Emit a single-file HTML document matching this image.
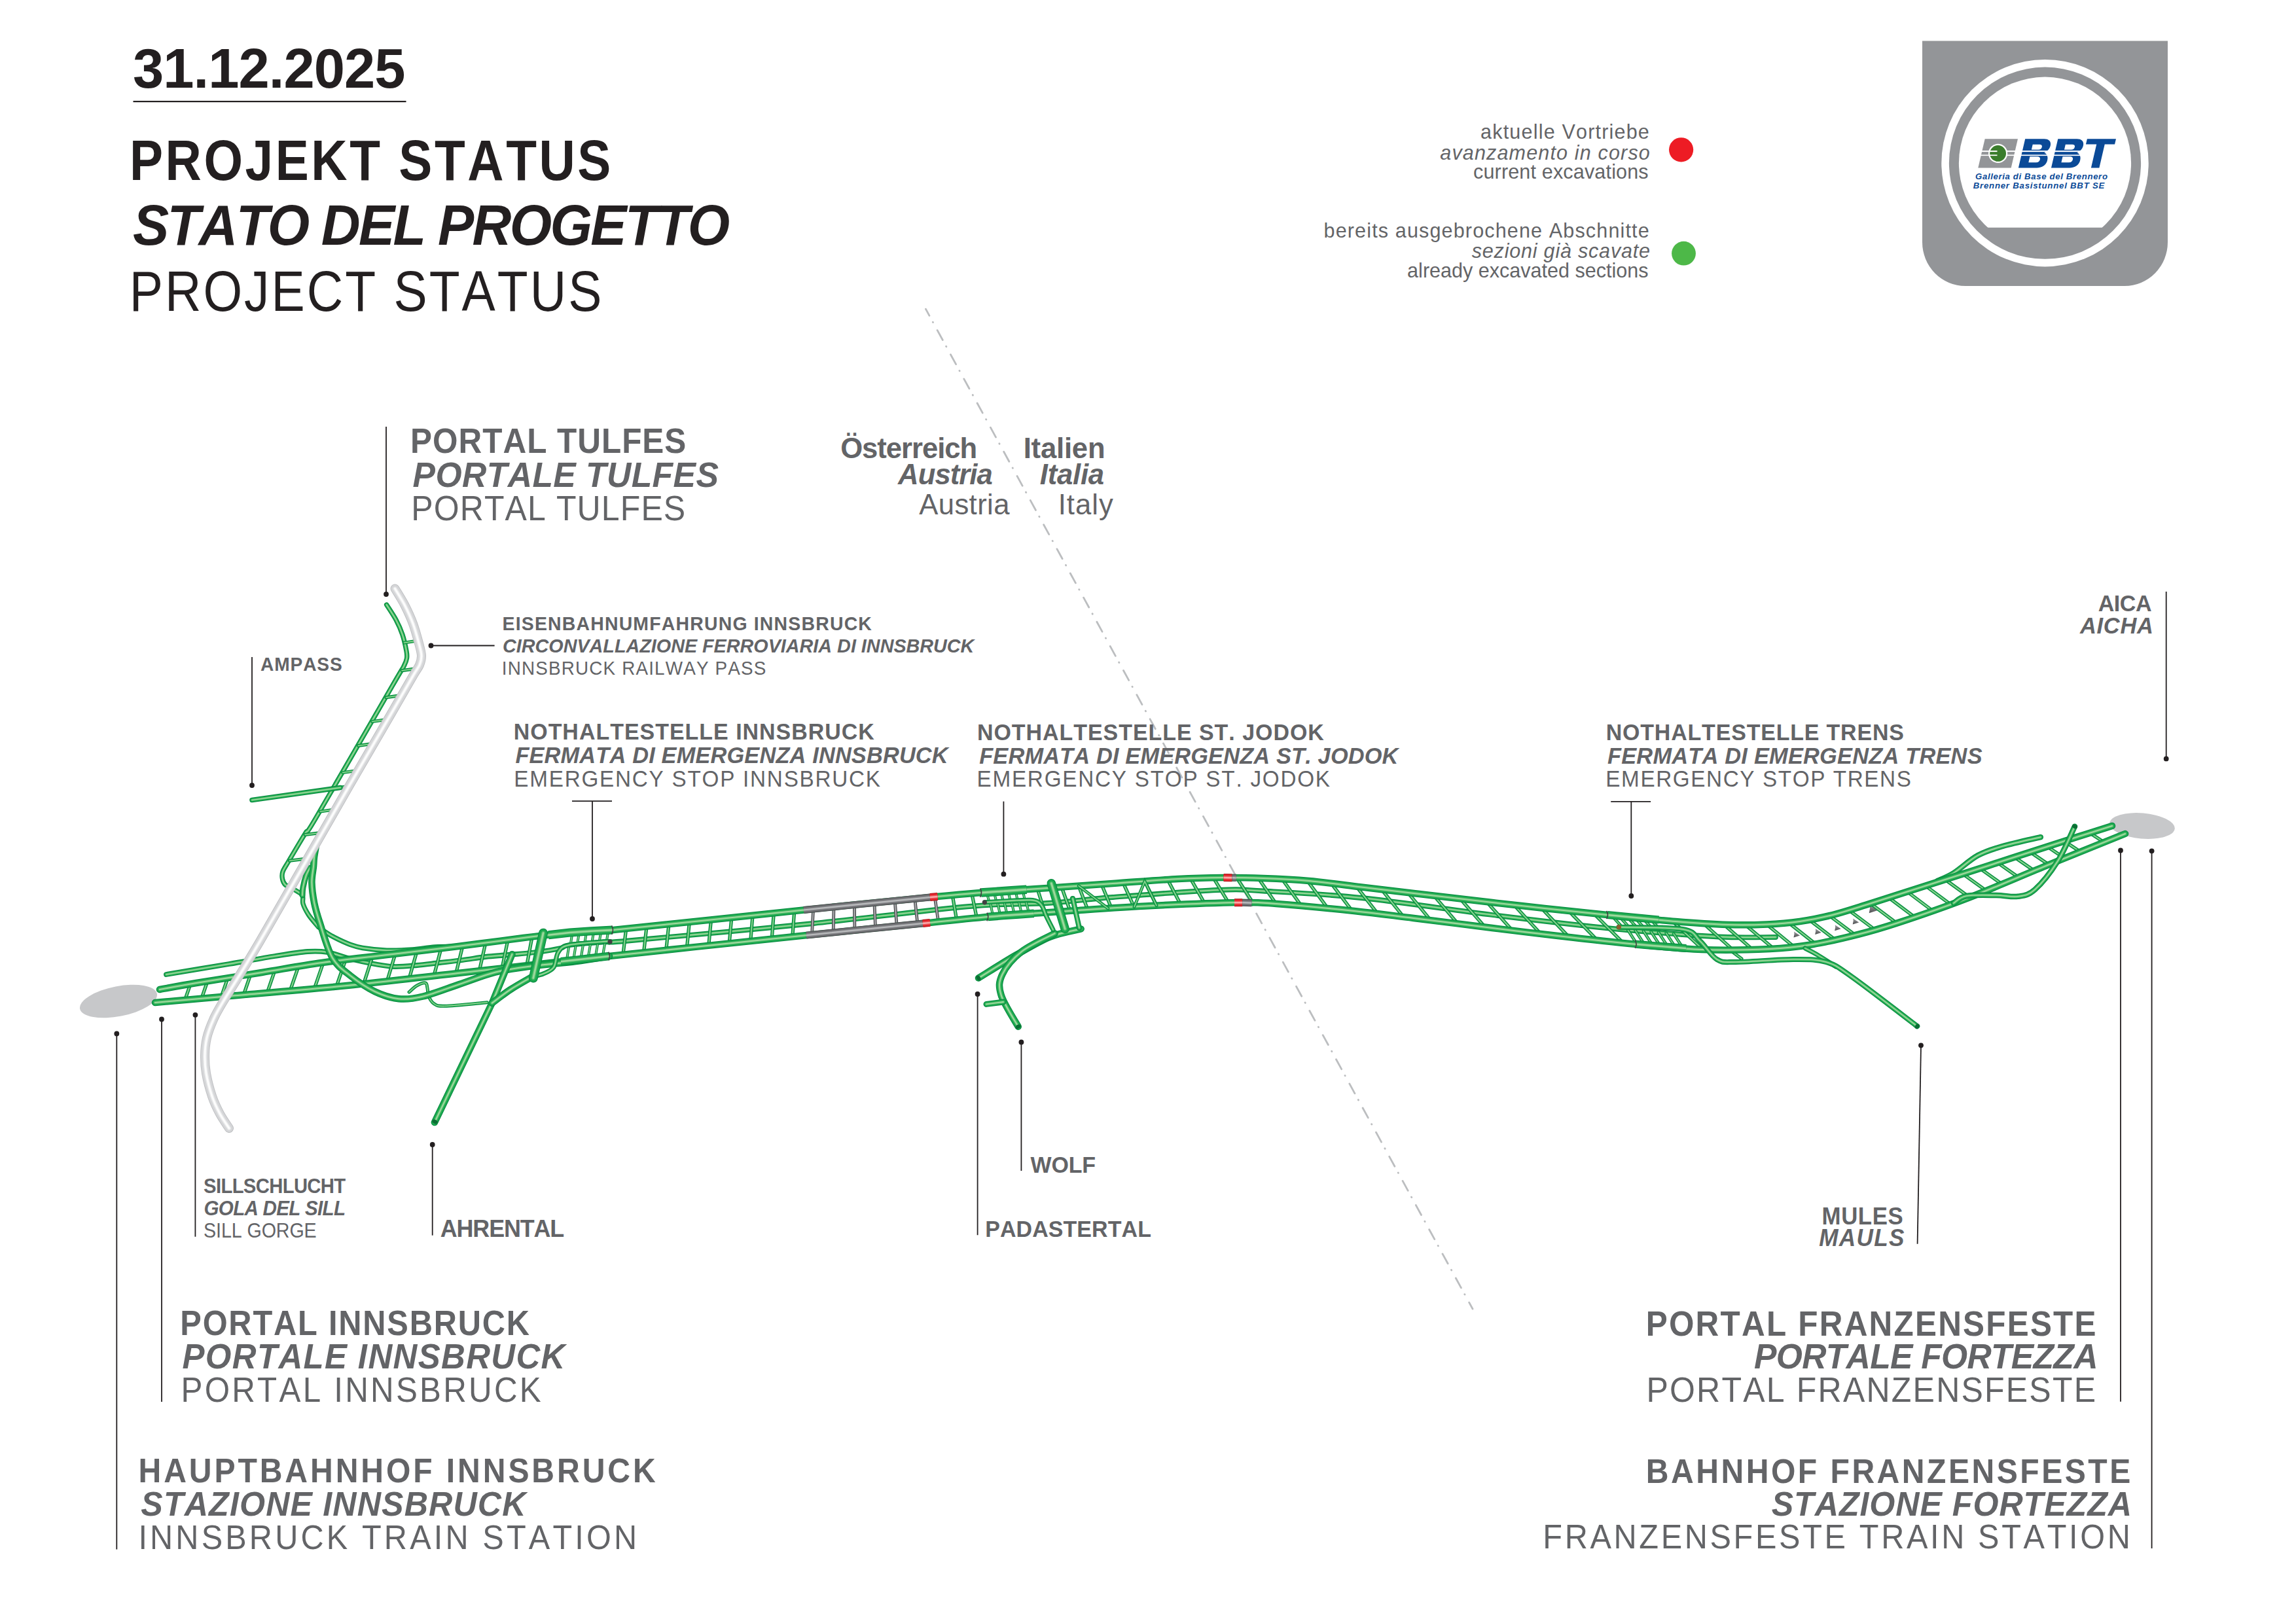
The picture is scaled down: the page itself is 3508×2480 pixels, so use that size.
<!DOCTYPE html><html><head><meta charset="utf-8"><title>BBT Projekt Status</title>
<style>html,body{margin:0;padding:0;background:#fff;width:3508px;height:2480px;overflow:hidden}svg{display:block}text{font-family:"Liberation Sans",sans-serif;font-kerning:none;font-variant-ligatures:none}</style></head><body>
<svg xmlns="http://www.w3.org/2000/svg" width="3508" height="2480" viewBox="0 0 3508 2480">
<rect width="3508" height="2480" fill="#fff"/>
<rect x="203.5" y="154" width="417" height="2.2" fill="#231f20"/>
<circle cx="2568.6" cy="228.8" r="18.6" fill="#ed1c24"/>
<circle cx="2572.5" cy="387.2" r="18.4" fill="#4db848"/>
<path d="M2937 62.6 H3312 V370 A66 67 0 0 1 3246 437 H3003 A66 67 0 0 1 2937 370 Z" fill="#939598"/>
<circle cx="3124.5" cy="249.2" r="158.2" fill="#fff"/>
<circle cx="3124.5" cy="249.2" r="146.6" fill="#939598"/>
<clipPath id="dc"><rect x="2900" y="100" width="450" height="247.7"/></clipPath>
<circle cx="3124.5" cy="249.2" r="131.6" fill="#fff" clip-path="url(#dc)"/>
<path d="M3032.7 212.2 H3083 L3072.7 256.5 H3022.3 Z" fill="#939598"/>
<rect x="3018" y="230.1" width="68" height="2" fill="#fff"/>
<rect x="3018" y="236.4" width="68" height="1.7" fill="#fff"/>
<circle cx="3052.6" cy="234.4" r="14.6" fill="#fff"/>
<circle cx="3052.6" cy="234.4" r="12.4" fill="#3a7d2c"/>
<rect x="3040" y="230.1" width="11.5" height="2" fill="#fff"/>
<rect x="3040" y="236.4" width="11.5" height="1.7" fill="#fff"/>
<path d="M0 0 H29 C37 0 41 4.5 41 10.5 C41 15.5 38 19 34 21 C39 23 41.5 27 41.5 33 C41.5 40 36 44.3 28 44.3 H0 Z M13.5 8.5 H24 C27 8.5 28.5 10 28.5 12.5 C28.5 15 27 16.5 24 16.5 H13.5 Z M13.5 27 H25 C28.5 27 30 29 30 31.5 C30 34 28.5 36 25 36 H13.5 Z" fill="#0b4a97" fill-rule="evenodd" transform="translate(3094.2 212.2) skewX(-13.1)"/>
<path d="M0 0 H29 C37 0 41 4.5 41 10.5 C41 15.5 38 19 34 21 C39 23 41.5 27 41.5 33 C41.5 40 36 44.3 28 44.3 H0 Z M13.5 8.5 H24 C27 8.5 28.5 10 28.5 12.5 C28.5 15 27 16.5 24 16.5 H13.5 Z M13.5 27 H25 C28.5 27 30 29 30 31.5 C30 34 28.5 36 25 36 H13.5 Z" fill="#0b4a97" fill-rule="evenodd" transform="translate(3144.3 212.2) skewX(-13.1)"/>
<path d="M0 0 H44.1 V8.4 H28.8 V44.3 H16.3 V8.4 H0 Z" fill="#0b4a97" transform="translate(3188.9 212.2) skewX(-13.1)"/>
<rect x="3078" y="230.1" width="107" height="2" fill="#fff"/>
<rect x="3078" y="236.4" width="107" height="1.7" fill="#fff"/>
<text x="3018" y="273.6" font-size="13.23" font-weight="bold" font-style="italic" letter-spacing="0.627" fill="#0b4a97">Galleria di Base del Brennero</text>
<text x="3014.7" y="287.8" font-size="13.23" font-weight="bold" font-style="italic" letter-spacing="0.770" fill="#0b4a97">Brenner Basistunnel BBT SE</text>
<path d="M1414.4 472.2 L2250 2000" stroke="#bcbec0" stroke-width="2.8" stroke-linecap="round" stroke-dasharray="17 11.1 0.5 13.73" stroke-dashoffset="5.4" fill="none"/>
<defs><linearGradient id="wg" x1="0" y1="0" x2="0" y2="1"><stop offset="0" stop-color="#9d9fa2"/><stop offset="1" stop-color="#4d4e50"/></linearGradient></defs>
<g fill="none">
<ellipse cx="181" cy="1530" rx="60" ry="23" transform="rotate(-11 181 1530)" fill="#c7c8ca"/>
<ellipse cx="3273" cy="1262" rx="50" ry="19.5" transform="rotate(5 3273 1262)" fill="#c7c8ca"/>
<path d="M487.4 1417 C489 1418.2 493.1 1421.4 497 1424 C500.9 1426.6 504.6 1429.2 511 1432.4 C517.4 1435.7 528.3 1440.8 535.5 1443.5 C542.7 1446.2 544.8 1447 554 1448.5 C563.2 1450 578.3 1451.8 591 1452.2 C603.7 1452.6 617.7 1451.9 630 1451 C642.3 1450.1 653.1 1447.8 664.8 1447 C676.5 1446.2 694.1 1446.2 700 1446" stroke="#07893f" stroke-width="7.5" stroke-linecap="round"/><path d="M487.4 1417 C489 1418.2 493.1 1421.4 497 1424 C500.9 1426.6 504.6 1429.2 511 1432.4 C517.4 1435.7 528.3 1440.8 535.5 1443.5 C542.7 1446.2 544.8 1447 554 1448.5 C563.2 1450 578.3 1451.8 591 1452.2 C603.7 1452.6 617.7 1451.9 630 1451 C642.3 1450.1 653.1 1447.8 664.8 1447 C676.5 1446.2 694.1 1446.2 700 1446" stroke="#1aa94f" stroke-width="5.5" stroke-linecap="round"/><path d="M487.4 1417 C489 1418.2 493.1 1421.4 497 1424 C500.9 1426.6 504.6 1429.2 511 1432.4 C517.4 1435.7 528.3 1440.8 535.5 1443.5 C542.7 1446.2 544.8 1447 554 1448.5 C563.2 1450 578.3 1451.8 591 1452.2 C603.7 1452.6 617.7 1451.9 630 1451 C642.3 1450.1 653.1 1447.8 664.8 1447 C676.5 1446.2 694.1 1446.2 700 1446" stroke="#4fbc68" stroke-width="3.1" stroke-linecap="round"/><path d="M487.4 1417 C489 1418.2 493.1 1421.4 497 1424 C500.9 1426.6 504.6 1429.2 511 1432.4 C517.4 1435.7 528.3 1440.8 535.5 1443.5 C542.7 1446.2 544.8 1447 554 1448.5 C563.2 1450 578.3 1451.8 591 1452.2 C603.7 1452.6 617.7 1451.9 630 1451 C642.3 1450.1 653.1 1447.8 664.8 1447 C676.5 1446.2 694.1 1446.2 700 1446" stroke="#9fd89f" stroke-width="1.5" stroke-linecap="round"/>
<path d="M590.6 924 C592.8 927.5 601.3 940.1 605 947 C608.7 953.9 612.6 962.8 615 970 C617.4 977.2 620 989.6 621 995 C622 1000.4 622.1 1002.5 621.5 1006 C620.9 1009.5 620.2 1011.9 617 1018 C613.8 1024.2 620.2 1012.2 600 1047 C579.8 1081.8 502.6 1216 482.6 1250 C462.6 1284 472.8 1263.4 466.5 1273.4 C460.2 1283.4 445.9 1307.7 440.7 1316.5 C435.5 1325.3 433.4 1328 432 1332 C430.6 1336 430.9 1340 431.5 1343 C432.1 1346 433.4 1349.6 436 1352 C438.6 1354.4 445.1 1356.6 449 1359 C452.9 1361.4 459.9 1364.7 462 1368 C464.1 1371.3 461.6 1376.5 463 1381 C464.4 1385.5 468.1 1392.7 471.5 1397.9 C474.9 1403.2 483.8 1413.3 486 1416" stroke="#07893f" stroke-width="7.3" stroke-linecap="round"/><path d="M590.6 924 C592.8 927.5 601.3 940.1 605 947 C608.7 953.9 612.6 962.8 615 970 C617.4 977.2 620 989.6 621 995 C622 1000.4 622.1 1002.5 621.5 1006 C620.9 1009.5 620.2 1011.9 617 1018 C613.8 1024.2 620.2 1012.2 600 1047 C579.8 1081.8 502.6 1216 482.6 1250 C462.6 1284 472.8 1263.4 466.5 1273.4 C460.2 1283.4 445.9 1307.7 440.7 1316.5 C435.5 1325.3 433.4 1328 432 1332 C430.6 1336 430.9 1340 431.5 1343 C432.1 1346 433.4 1349.6 436 1352 C438.6 1354.4 445.1 1356.6 449 1359 C452.9 1361.4 459.9 1364.7 462 1368 C464.1 1371.3 461.6 1376.5 463 1381 C464.4 1385.5 468.1 1392.7 471.5 1397.9 C474.9 1403.2 483.8 1413.3 486 1416" stroke="#1aa94f" stroke-width="5.3" stroke-linecap="round"/><path d="M590.6 924 C592.8 927.5 601.3 940.1 605 947 C608.7 953.9 612.6 962.8 615 970 C617.4 977.2 620 989.6 621 995 C622 1000.4 622.1 1002.5 621.5 1006 C620.9 1009.5 620.2 1011.9 617 1018 C613.8 1024.2 620.2 1012.2 600 1047 C579.8 1081.8 502.6 1216 482.6 1250 C462.6 1284 472.8 1263.4 466.5 1273.4 C460.2 1283.4 445.9 1307.7 440.7 1316.5 C435.5 1325.3 433.4 1328 432 1332 C430.6 1336 430.9 1340 431.5 1343 C432.1 1346 433.4 1349.6 436 1352 C438.6 1354.4 445.1 1356.6 449 1359 C452.9 1361.4 459.9 1364.7 462 1368 C464.1 1371.3 461.6 1376.5 463 1381 C464.4 1385.5 468.1 1392.7 471.5 1397.9 C474.9 1403.2 483.8 1413.3 486 1416" stroke="#4fbc68" stroke-width="3.1" stroke-linecap="round"/><path d="M590.6 924 C592.8 927.5 601.3 940.1 605 947 C608.7 953.9 612.6 962.8 615 970 C617.4 977.2 620 989.6 621 995 C622 1000.4 622.1 1002.5 621.5 1006 C620.9 1009.5 620.2 1011.9 617 1018 C613.8 1024.2 620.2 1012.2 600 1047 C579.8 1081.8 502.6 1216 482.6 1250 C462.6 1284 472.8 1263.4 466.5 1273.4 C460.2 1283.4 445.9 1307.7 440.7 1316.5 C435.5 1325.3 433.4 1328 432 1332 C430.6 1336 430.9 1340 431.5 1343 C432.1 1346 433.4 1349.6 436 1352 C438.6 1354.4 445.1 1356.6 449 1359 C452.9 1361.4 459.9 1364.7 462 1368 C464.1 1371.3 461.6 1376.5 463 1381 C464.4 1385.5 468.1 1392.7 471.5 1397.9 C474.9 1403.2 483.8 1413.3 486 1416" stroke="#9fd89f" stroke-width="1.5" stroke-linecap="round"/>
<path d="M474 1326 C473 1327.8 469.8 1332 468 1337 C466.2 1342 464 1350.8 463 1356 C462 1361.2 462.2 1366 462 1368" stroke="#07893f" stroke-width="9" stroke-linecap="round"/><path d="M474 1326 C473 1327.8 469.8 1332 468 1337 C466.2 1342 464 1350.8 463 1356 C462 1361.2 462.2 1366 462 1368" stroke="#1aa94f" stroke-width="7" stroke-linecap="round"/><path d="M474 1326 C473 1327.8 469.8 1332 468 1337 C466.2 1342 464 1350.8 463 1356 C462 1361.2 462.2 1366 462 1368" stroke="#4fbc68" stroke-width="3.8" stroke-linecap="round"/><path d="M474 1326 C473 1327.8 469.8 1332 468 1337 C466.2 1342 464 1350.8 463 1356 C462 1361.2 462.2 1366 462 1368" stroke="#9fd89f" stroke-width="1.8" stroke-linecap="round"/>
<path d="M617.5 982.1 L637.3 979.1" stroke="#07893f" stroke-width="5" stroke-linecap="round"/><path d="M617.5 982.1 L637.3 979.1" stroke="#1aa94f" stroke-width="3.1" stroke-linecap="round"/><path d="M617.5 982.1 L637.3 979.1" stroke="#4fbc68" stroke-width="2.1" stroke-linecap="round"/><path d="M617.5 982.1 L637.3 979.1" stroke="#9fd89f" stroke-width="1" stroke-linecap="round"/>
<path d="M614 1024.7 L634.7 1021.7" stroke="#07893f" stroke-width="5" stroke-linecap="round"/><path d="M614 1024.7 L634.7 1021.7" stroke="#1aa94f" stroke-width="3.1" stroke-linecap="round"/><path d="M614 1024.7 L634.7 1021.7" stroke="#4fbc68" stroke-width="2.1" stroke-linecap="round"/><path d="M614 1024.7 L634.7 1021.7" stroke="#9fd89f" stroke-width="1" stroke-linecap="round"/>
<path d="M590 1065.8 L610.8 1062.8" stroke="#07893f" stroke-width="5" stroke-linecap="round"/><path d="M590 1065.8 L610.8 1062.8" stroke="#1aa94f" stroke-width="3.1" stroke-linecap="round"/><path d="M590 1065.8 L610.8 1062.8" stroke="#4fbc68" stroke-width="2.1" stroke-linecap="round"/><path d="M590 1065.8 L610.8 1062.8" stroke="#9fd89f" stroke-width="1" stroke-linecap="round"/>
<path d="M568.7 1102.6 L589.5 1099.6" stroke="#07893f" stroke-width="5" stroke-linecap="round"/><path d="M568.7 1102.6 L589.5 1099.6" stroke="#1aa94f" stroke-width="3.1" stroke-linecap="round"/><path d="M568.7 1102.6 L589.5 1099.6" stroke="#4fbc68" stroke-width="2.1" stroke-linecap="round"/><path d="M568.7 1102.6 L589.5 1099.6" stroke="#9fd89f" stroke-width="1" stroke-linecap="round"/>
<path d="M547.4 1139.5 L568.1 1136.5" stroke="#07893f" stroke-width="5" stroke-linecap="round"/><path d="M547.4 1139.5 L568.1 1136.5" stroke="#1aa94f" stroke-width="3.1" stroke-linecap="round"/><path d="M547.4 1139.5 L568.1 1136.5" stroke="#4fbc68" stroke-width="2.1" stroke-linecap="round"/><path d="M547.4 1139.5 L568.1 1136.5" stroke="#9fd89f" stroke-width="1" stroke-linecap="round"/>
<path d="M523.6 1180.6 L544.2 1177.6" stroke="#07893f" stroke-width="5" stroke-linecap="round"/><path d="M523.6 1180.6 L544.2 1177.6" stroke="#1aa94f" stroke-width="3.1" stroke-linecap="round"/><path d="M523.6 1180.6 L544.2 1177.6" stroke="#4fbc68" stroke-width="2.1" stroke-linecap="round"/><path d="M523.6 1180.6 L544.2 1177.6" stroke="#9fd89f" stroke-width="1" stroke-linecap="round"/>
<path d="M509.7 1204.7 L530.2 1201.7" stroke="#07893f" stroke-width="5" stroke-linecap="round"/><path d="M509.7 1204.7 L530.2 1201.7" stroke="#1aa94f" stroke-width="3.1" stroke-linecap="round"/><path d="M509.7 1204.7 L530.2 1201.7" stroke="#4fbc68" stroke-width="2.1" stroke-linecap="round"/><path d="M509.7 1204.7 L530.2 1201.7" stroke="#9fd89f" stroke-width="1" stroke-linecap="round"/>
<path d="M489.2 1240.1 L509.8 1237.1" stroke="#07893f" stroke-width="5" stroke-linecap="round"/><path d="M489.2 1240.1 L509.8 1237.1" stroke="#1aa94f" stroke-width="3.1" stroke-linecap="round"/><path d="M489.2 1240.1 L509.8 1237.1" stroke="#4fbc68" stroke-width="2.1" stroke-linecap="round"/><path d="M489.2 1240.1 L509.8 1237.1" stroke="#9fd89f" stroke-width="1" stroke-linecap="round"/>
<path d="M466.1 1275.5 L489.5 1272.5" stroke="#07893f" stroke-width="5" stroke-linecap="round"/><path d="M466.1 1275.5 L489.5 1272.5" stroke="#1aa94f" stroke-width="3.1" stroke-linecap="round"/><path d="M466.1 1275.5 L489.5 1272.5" stroke="#4fbc68" stroke-width="2.1" stroke-linecap="round"/><path d="M466.1 1275.5 L489.5 1272.5" stroke="#9fd89f" stroke-width="1" stroke-linecap="round"/>
<path d="M442.4 1315.2 L466.7 1312.2" stroke="#07893f" stroke-width="5" stroke-linecap="round"/><path d="M442.4 1315.2 L466.7 1312.2" stroke="#1aa94f" stroke-width="3.1" stroke-linecap="round"/><path d="M442.4 1315.2 L466.7 1312.2" stroke="#4fbc68" stroke-width="2.1" stroke-linecap="round"/><path d="M442.4 1315.2 L466.7 1312.2" stroke="#9fd89f" stroke-width="1" stroke-linecap="round"/>
<path d="M385 1222.5 L520 1203.5" stroke="#07893f" stroke-width="7.5" stroke-linecap="round"/><path d="M385 1222.5 L520 1203.5" stroke="#1aa94f" stroke-width="5.5" stroke-linecap="round"/><path d="M385 1222.5 L520 1203.5" stroke="#4fbc68" stroke-width="3.1" stroke-linecap="round"/><path d="M385 1222.5 L520 1203.5" stroke="#9fd89f" stroke-width="1.5" stroke-linecap="round"/>
<path d="M625 1516 C627 1514.3 632.8 1508.3 637 1506 C641.2 1503.7 647.3 1501.3 650 1502 C652.7 1502.7 652.2 1506.6 653 1510 C653.8 1513.4 653.3 1518.6 655 1522.5 C656.7 1526.4 658.9 1531.1 663 1533.6 C667.1 1536.1 666.1 1537.6 679.6 1537.3 C693.1 1537 733.5 1532.6 744.3 1531.7" stroke="#07893f" stroke-width="5" stroke-linecap="round"/><path d="M625 1516 C627 1514.3 632.8 1508.3 637 1506 C641.2 1503.7 647.3 1501.3 650 1502 C652.7 1502.7 652.2 1506.6 653 1510 C653.8 1513.4 653.3 1518.6 655 1522.5 C656.7 1526.4 658.9 1531.1 663 1533.6 C667.1 1536.1 666.1 1537.6 679.6 1537.3 C693.1 1537 733.5 1532.6 744.3 1531.7" stroke="#1aa94f" stroke-width="3.1" stroke-linecap="round"/><path d="M625 1516 C627 1514.3 632.8 1508.3 637 1506 C641.2 1503.7 647.3 1501.3 650 1502 C652.7 1502.7 652.2 1506.6 653 1510 C653.8 1513.4 653.3 1518.6 655 1522.5 C656.7 1526.4 658.9 1531.1 663 1533.6 C667.1 1536.1 666.1 1537.6 679.6 1537.3 C693.1 1537 733.5 1532.6 744.3 1531.7" stroke="#4fbc68" stroke-width="2.1" stroke-linecap="round"/><path d="M625 1516 C627 1514.3 632.8 1508.3 637 1506 C641.2 1503.7 647.3 1501.3 650 1502 C652.7 1502.7 652.2 1506.6 653 1510 C653.8 1513.4 653.3 1518.6 655 1522.5 C656.7 1526.4 658.9 1531.1 663 1533.6 C667.1 1536.1 666.1 1537.6 679.6 1537.3 C693.1 1537 733.5 1532.6 744.3 1531.7" stroke="#9fd89f" stroke-width="1" stroke-linecap="round"/>
<path d="M1651.6 1419.4 C1643.8 1421.4 1621 1424.9 1604.5 1431.6 C1588 1438.3 1570.5 1448.9 1552.3 1459.4 C1534 1469.9 1504.5 1488.7 1495 1494.5" stroke="#07893f" stroke-width="10.5" stroke-linecap="round"/><path d="M1651.6 1419.4 C1643.8 1421.4 1621 1424.9 1604.5 1431.6 C1588 1438.3 1570.5 1448.9 1552.3 1459.4 C1534 1469.9 1504.5 1488.7 1495 1494.5" stroke="#1aa94f" stroke-width="8.5" stroke-linecap="round"/><path d="M1651.6 1419.4 C1643.8 1421.4 1621 1424.9 1604.5 1431.6 C1588 1438.3 1570.5 1448.9 1552.3 1459.4 C1534 1469.9 1504.5 1488.7 1495 1494.5" stroke="#4fbc68" stroke-width="4.4" stroke-linecap="round"/><path d="M1651.6 1419.4 C1643.8 1421.4 1621 1424.9 1604.5 1431.6 C1588 1438.3 1570.5 1448.9 1552.3 1459.4 C1534 1469.9 1504.5 1488.7 1495 1494.5" stroke="#9fd89f" stroke-width="2.1" stroke-linecap="round"/>
<path d="M1611.5 1426.3 C1603.1 1430.9 1574.3 1443.5 1561 1454 C1547.7 1464.5 1536.6 1477.9 1531.4 1489 C1526.2 1500.1 1525.5 1507.1 1529.6 1520.4 C1533.6 1533.7 1551.3 1560.7 1555.7 1568.7" stroke="#07893f" stroke-width="10.5" stroke-linecap="round"/><path d="M1611.5 1426.3 C1603.1 1430.9 1574.3 1443.5 1561 1454 C1547.7 1464.5 1536.6 1477.9 1531.4 1489 C1526.2 1500.1 1525.5 1507.1 1529.6 1520.4 C1533.6 1533.7 1551.3 1560.7 1555.7 1568.7" stroke="#1aa94f" stroke-width="8.5" stroke-linecap="round"/><path d="M1611.5 1426.3 C1603.1 1430.9 1574.3 1443.5 1561 1454 C1547.7 1464.5 1536.6 1477.9 1531.4 1489 C1526.2 1500.1 1525.5 1507.1 1529.6 1520.4 C1533.6 1533.7 1551.3 1560.7 1555.7 1568.7" stroke="#4fbc68" stroke-width="4.4" stroke-linecap="round"/><path d="M1611.5 1426.3 C1603.1 1430.9 1574.3 1443.5 1561 1454 C1547.7 1464.5 1536.6 1477.9 1531.4 1489 C1526.2 1500.1 1525.5 1507.1 1529.6 1520.4 C1533.6 1533.7 1551.3 1560.7 1555.7 1568.7" stroke="#9fd89f" stroke-width="2.1" stroke-linecap="round"/>
<path d="M1507 1534.4 L1533 1531" stroke="#07893f" stroke-width="9" stroke-linecap="round"/><path d="M1507 1534.4 L1533 1531" stroke="#1aa94f" stroke-width="7" stroke-linecap="round"/><path d="M1507 1534.4 L1533 1531" stroke="#4fbc68" stroke-width="3.8" stroke-linecap="round"/><path d="M1507 1534.4 L1533 1531" stroke="#9fd89f" stroke-width="1.8" stroke-linecap="round"/>
<path d="M2643 1451.5 L2661 1465" stroke="#07893f" stroke-width="5" stroke-linecap="round"/><path d="M2643 1451.5 L2661 1465" stroke="#1aa94f" stroke-width="3.1" stroke-linecap="round"/><path d="M2643 1451.5 L2661 1465" stroke="#4fbc68" stroke-width="2.1" stroke-linecap="round"/><path d="M2643 1451.5 L2661 1465" stroke="#9fd89f" stroke-width="1" stroke-linecap="round"/>
<path d="M2960 1346 C2964.2 1344 2974.7 1340.5 2985 1334 C2995.3 1327.5 3009.5 1313.9 3022 1307.1 C3034.5 1300.3 3044 1297.7 3060 1293 C3076 1288.3 3108.2 1281.5 3117.8 1279.2" stroke="#07893f" stroke-width="8.5" stroke-linecap="round"/><path d="M2960 1346 C2964.2 1344 2974.7 1340.5 2985 1334 C2995.3 1327.5 3009.5 1313.9 3022 1307.1 C3034.5 1300.3 3044 1297.7 3060 1293 C3076 1288.3 3108.2 1281.5 3117.8 1279.2" stroke="#1aa94f" stroke-width="6.5" stroke-linecap="round"/><path d="M2960 1346 C2964.2 1344 2974.7 1340.5 2985 1334 C2995.3 1327.5 3009.5 1313.9 3022 1307.1 C3034.5 1300.3 3044 1297.7 3060 1293 C3076 1288.3 3108.2 1281.5 3117.8 1279.2" stroke="#4fbc68" stroke-width="3.6" stroke-linecap="round"/><path d="M2960 1346 C2964.2 1344 2974.7 1340.5 2985 1334 C2995.3 1327.5 3009.5 1313.9 3022 1307.1 C3034.5 1300.3 3044 1297.7 3060 1293 C3076 1288.3 3108.2 1281.5 3117.8 1279.2" stroke="#9fd89f" stroke-width="1.7" stroke-linecap="round"/>
<path d="M254 1489 C270 1486.3 322.3 1477.7 350 1473 C377.7 1468.3 400 1464.2 420 1461 C440 1457.8 456.7 1455 470 1454 C483.3 1453 489.2 1453.2 500 1455 C510.8 1456.8 523 1462 535 1465 C547 1468 560.8 1471 572 1473 C583.2 1475 591.2 1476.7 602 1477 C612.8 1477.3 625.3 1476 637 1475 C648.7 1474 660.3 1472.3 672 1471 C683.7 1469.7 695.3 1468.5 707 1467 C718.7 1465.5 730.3 1463.3 742 1462 C753.7 1460.7 764 1460.2 777 1459 C790 1457.8 806.8 1456.7 820 1455 C833.2 1453.3 847.7 1450.8 856 1449 C864.3 1447.2 857.8 1445.7 870 1444 C882.2 1442.3 914 1440.1 929 1439 C944 1437.9 907.7 1442.2 960 1437.5 C1012.3 1432.8 1156.2 1419.8 1243 1411 C1329.8 1402.2 1421.5 1390.2 1481 1385 C1540.5 1379.8 1563.5 1382.3 1600 1380 C1636.5 1377.7 1656.7 1374.3 1700 1371 C1743.3 1367.7 1821.7 1361.6 1860 1360 C1898.3 1358.4 1893.3 1359.5 1930 1361.5 C1966.7 1363.5 2021.7 1365.9 2080 1372 C2138.3 1378.1 2218.5 1390.4 2280 1398 C2341.5 1405.6 2400.5 1412.5 2449 1417.5 C2497.5 1422.5 2539.2 1425.6 2571 1428 C2602.8 1430.4 2616.3 1431.3 2640 1432 C2663.7 1432.7 2700.8 1432 2713 1432" stroke="#07893f" stroke-width="7.8" stroke-linecap="round"/><path d="M254 1489 C270 1486.3 322.3 1477.7 350 1473 C377.7 1468.3 400 1464.2 420 1461 C440 1457.8 456.7 1455 470 1454 C483.3 1453 489.2 1453.2 500 1455 C510.8 1456.8 523 1462 535 1465 C547 1468 560.8 1471 572 1473 C583.2 1475 591.2 1476.7 602 1477 C612.8 1477.3 625.3 1476 637 1475 C648.7 1474 660.3 1472.3 672 1471 C683.7 1469.7 695.3 1468.5 707 1467 C718.7 1465.5 730.3 1463.3 742 1462 C753.7 1460.7 764 1460.2 777 1459 C790 1457.8 806.8 1456.7 820 1455 C833.2 1453.3 847.7 1450.8 856 1449 C864.3 1447.2 857.8 1445.7 870 1444 C882.2 1442.3 914 1440.1 929 1439 C944 1437.9 907.7 1442.2 960 1437.5 C1012.3 1432.8 1156.2 1419.8 1243 1411 C1329.8 1402.2 1421.5 1390.2 1481 1385 C1540.5 1379.8 1563.5 1382.3 1600 1380 C1636.5 1377.7 1656.7 1374.3 1700 1371 C1743.3 1367.7 1821.7 1361.6 1860 1360 C1898.3 1358.4 1893.3 1359.5 1930 1361.5 C1966.7 1363.5 2021.7 1365.9 2080 1372 C2138.3 1378.1 2218.5 1390.4 2280 1398 C2341.5 1405.6 2400.5 1412.5 2449 1417.5 C2497.5 1422.5 2539.2 1425.6 2571 1428 C2602.8 1430.4 2616.3 1431.3 2640 1432 C2663.7 1432.7 2700.8 1432 2713 1432" stroke="#1aa94f" stroke-width="5.8" stroke-linecap="round"/><path d="M254 1489 C270 1486.3 322.3 1477.7 350 1473 C377.7 1468.3 400 1464.2 420 1461 C440 1457.8 456.7 1455 470 1454 C483.3 1453 489.2 1453.2 500 1455 C510.8 1456.8 523 1462 535 1465 C547 1468 560.8 1471 572 1473 C583.2 1475 591.2 1476.7 602 1477 C612.8 1477.3 625.3 1476 637 1475 C648.7 1474 660.3 1472.3 672 1471 C683.7 1469.7 695.3 1468.5 707 1467 C718.7 1465.5 730.3 1463.3 742 1462 C753.7 1460.7 764 1460.2 777 1459 C790 1457.8 806.8 1456.7 820 1455 C833.2 1453.3 847.7 1450.8 856 1449 C864.3 1447.2 857.8 1445.7 870 1444 C882.2 1442.3 914 1440.1 929 1439 C944 1437.9 907.7 1442.2 960 1437.5 C1012.3 1432.8 1156.2 1419.8 1243 1411 C1329.8 1402.2 1421.5 1390.2 1481 1385 C1540.5 1379.8 1563.5 1382.3 1600 1380 C1636.5 1377.7 1656.7 1374.3 1700 1371 C1743.3 1367.7 1821.7 1361.6 1860 1360 C1898.3 1358.4 1893.3 1359.5 1930 1361.5 C1966.7 1363.5 2021.7 1365.9 2080 1372 C2138.3 1378.1 2218.5 1390.4 2280 1398 C2341.5 1405.6 2400.5 1412.5 2449 1417.5 C2497.5 1422.5 2539.2 1425.6 2571 1428 C2602.8 1430.4 2616.3 1431.3 2640 1432 C2663.7 1432.7 2700.8 1432 2713 1432" stroke="#4fbc68" stroke-width="3.3" stroke-linecap="round"/><path d="M254 1489 C270 1486.3 322.3 1477.7 350 1473 C377.7 1468.3 400 1464.2 420 1461 C440 1457.8 456.7 1455 470 1454 C483.3 1453 489.2 1453.2 500 1455 C510.8 1456.8 523 1462 535 1465 C547 1468 560.8 1471 572 1473 C583.2 1475 591.2 1476.7 602 1477 C612.8 1477.3 625.3 1476 637 1475 C648.7 1474 660.3 1472.3 672 1471 C683.7 1469.7 695.3 1468.5 707 1467 C718.7 1465.5 730.3 1463.3 742 1462 C753.7 1460.7 764 1460.2 777 1459 C790 1457.8 806.8 1456.7 820 1455 C833.2 1453.3 847.7 1450.8 856 1449 C864.3 1447.2 857.8 1445.7 870 1444 C882.2 1442.3 914 1440.1 929 1439 C944 1437.9 907.7 1442.2 960 1437.5 C1012.3 1432.8 1156.2 1419.8 1243 1411 C1329.8 1402.2 1421.5 1390.2 1481 1385 C1540.5 1379.8 1563.5 1382.3 1600 1380 C1636.5 1377.7 1656.7 1374.3 1700 1371 C1743.3 1367.7 1821.7 1361.6 1860 1360 C1898.3 1358.4 1893.3 1359.5 1930 1361.5 C1966.7 1363.5 2021.7 1365.9 2080 1372 C2138.3 1378.1 2218.5 1390.4 2280 1398 C2341.5 1405.6 2400.5 1412.5 2449 1417.5 C2497.5 1422.5 2539.2 1425.6 2571 1428 C2602.8 1430.4 2616.3 1431.3 2640 1432 C2663.7 1432.7 2700.8 1432 2713 1432" stroke="#9fd89f" stroke-width="1.6" stroke-linecap="round"/>
<path d="M2741 1423.5 L2750 1429.5 L2740.5 1432.5 L2741.5 1427 Z" fill="url(#wg)"/>
<path d="M2773.7 1419.1 L2782.7 1425.1 L2773.2 1428.1 L2774.2 1422.6 Z" fill="url(#wg)"/>
<path d="M2803.7 1413.2 L2812.7 1419.2 L2803.2 1422.2 L2804.2 1416.7 Z" fill="url(#wg)"/>
<path d="M2831.2 1403.4 L2840.2 1409.4 L2830.7 1412.4 L2831.7 1406.9 Z" fill="url(#wg)"/>
<path d="M2856.4 1382.7 L2869 1391.1 L2855.7 1395.3 L2857.1 1387.6 Z" fill="url(#wg)"/>
<path d="M291 1503.6 L282.5 1528.2" stroke="#07893f" stroke-width="5.3" stroke-linecap="round"/><path d="M291 1503.6 L282.5 1528.2" stroke="#1aa94f" stroke-width="3.3" stroke-linecap="round"/><path d="M291 1503.6 L282.5 1528.2" stroke="#4fbc68" stroke-width="2.2" stroke-linecap="round"/><path d="M291 1503.6 L282.5 1528.2" stroke="#9fd89f" stroke-width="1.1" stroke-linecap="round"/>
<path d="M317 1499.3 L307.9 1525.8" stroke="#07893f" stroke-width="5.3" stroke-linecap="round"/><path d="M317 1499.3 L307.9 1525.8" stroke="#1aa94f" stroke-width="3.3" stroke-linecap="round"/><path d="M317 1499.3 L307.9 1525.8" stroke="#4fbc68" stroke-width="2.2" stroke-linecap="round"/><path d="M317 1499.3 L307.9 1525.8" stroke="#9fd89f" stroke-width="1.1" stroke-linecap="round"/>
<path d="M348 1494.3 L338.1 1523.2" stroke="#07893f" stroke-width="5.3" stroke-linecap="round"/><path d="M348 1494.3 L338.1 1523.2" stroke="#1aa94f" stroke-width="3.3" stroke-linecap="round"/><path d="M348 1494.3 L338.1 1523.2" stroke="#4fbc68" stroke-width="2.2" stroke-linecap="round"/><path d="M348 1494.3 L338.1 1523.2" stroke="#9fd89f" stroke-width="1.1" stroke-linecap="round"/>
<path d="M383 1488.7 L372.2 1520.2" stroke="#07893f" stroke-width="5.3" stroke-linecap="round"/><path d="M383 1488.7 L372.2 1520.2" stroke="#1aa94f" stroke-width="3.3" stroke-linecap="round"/><path d="M383 1488.7 L372.2 1520.2" stroke="#4fbc68" stroke-width="2.2" stroke-linecap="round"/><path d="M383 1488.7 L372.2 1520.2" stroke="#9fd89f" stroke-width="1.1" stroke-linecap="round"/>
<path d="M420 1482.7 L408.2 1517" stroke="#07893f" stroke-width="5.3" stroke-linecap="round"/><path d="M420 1482.7 L408.2 1517" stroke="#1aa94f" stroke-width="3.3" stroke-linecap="round"/><path d="M420 1482.7 L408.2 1517" stroke="#4fbc68" stroke-width="2.2" stroke-linecap="round"/><path d="M420 1482.7 L408.2 1517" stroke="#9fd89f" stroke-width="1.1" stroke-linecap="round"/>
<path d="M456 1476.9 L443.3 1513.7" stroke="#07893f" stroke-width="5.3" stroke-linecap="round"/><path d="M456 1476.9 L443.3 1513.7" stroke="#1aa94f" stroke-width="3.3" stroke-linecap="round"/><path d="M456 1476.9 L443.3 1513.7" stroke="#4fbc68" stroke-width="2.2" stroke-linecap="round"/><path d="M456 1476.9 L443.3 1513.7" stroke="#9fd89f" stroke-width="1.1" stroke-linecap="round"/>
<path d="M494 1470.8 L480.3 1510.5" stroke="#07893f" stroke-width="5.3" stroke-linecap="round"/><path d="M494 1470.8 L480.3 1510.5" stroke="#1aa94f" stroke-width="3.3" stroke-linecap="round"/><path d="M494 1470.8 L480.3 1510.5" stroke="#4fbc68" stroke-width="2.2" stroke-linecap="round"/><path d="M494 1470.8 L480.3 1510.5" stroke="#9fd89f" stroke-width="1.1" stroke-linecap="round"/>
<path d="M528 1466.7 L513.9 1507.6" stroke="#07893f" stroke-width="5.3" stroke-linecap="round"/><path d="M528 1466.7 L513.9 1507.6" stroke="#1aa94f" stroke-width="3.3" stroke-linecap="round"/><path d="M528 1466.7 L513.9 1507.6" stroke="#4fbc68" stroke-width="2.2" stroke-linecap="round"/><path d="M528 1466.7 L513.9 1507.6" stroke="#9fd89f" stroke-width="1.1" stroke-linecap="round"/>
<path d="M569 1461.7 L555.7 1503.1" stroke="#07893f" stroke-width="5.3" stroke-linecap="round"/><path d="M569 1461.7 L555.7 1503.1" stroke="#1aa94f" stroke-width="3.3" stroke-linecap="round"/><path d="M569 1461.7 L555.7 1503.1" stroke="#4fbc68" stroke-width="2.2" stroke-linecap="round"/><path d="M569 1461.7 L555.7 1503.1" stroke="#9fd89f" stroke-width="1.1" stroke-linecap="round"/>
<path d="M604 1457.5 L591.4 1499.2" stroke="#07893f" stroke-width="5.3" stroke-linecap="round"/><path d="M604 1457.5 L591.4 1499.2" stroke="#1aa94f" stroke-width="3.3" stroke-linecap="round"/><path d="M604 1457.5 L591.4 1499.2" stroke="#4fbc68" stroke-width="2.2" stroke-linecap="round"/><path d="M604 1457.5 L591.4 1499.2" stroke="#9fd89f" stroke-width="1.1" stroke-linecap="round"/>
<path d="M637 1453.6 L625.1 1495.4" stroke="#07893f" stroke-width="5.3" stroke-linecap="round"/><path d="M637 1453.6 L625.1 1495.4" stroke="#1aa94f" stroke-width="3.3" stroke-linecap="round"/><path d="M637 1453.6 L625.1 1495.4" stroke="#4fbc68" stroke-width="2.2" stroke-linecap="round"/><path d="M637 1453.6 L625.1 1495.4" stroke="#9fd89f" stroke-width="1.1" stroke-linecap="round"/>
<path d="M674 1449.1 L662.9 1491.2" stroke="#07893f" stroke-width="5.3" stroke-linecap="round"/><path d="M674 1449.1 L662.9 1491.2" stroke="#1aa94f" stroke-width="3.3" stroke-linecap="round"/><path d="M674 1449.1 L662.9 1491.2" stroke="#4fbc68" stroke-width="2.2" stroke-linecap="round"/><path d="M674 1449.1 L662.9 1491.2" stroke="#9fd89f" stroke-width="1.1" stroke-linecap="round"/>
<path d="M707 1445.1 L696.6 1487.6" stroke="#07893f" stroke-width="5.3" stroke-linecap="round"/><path d="M707 1445.1 L696.6 1487.6" stroke="#1aa94f" stroke-width="3.3" stroke-linecap="round"/><path d="M707 1445.1 L696.6 1487.6" stroke="#4fbc68" stroke-width="2.2" stroke-linecap="round"/><path d="M707 1445.1 L696.6 1487.6" stroke="#9fd89f" stroke-width="1.1" stroke-linecap="round"/>
<path d="M742 1440.5 L732.3 1483.5" stroke="#07893f" stroke-width="5.3" stroke-linecap="round"/><path d="M742 1440.5 L732.3 1483.5" stroke="#1aa94f" stroke-width="3.3" stroke-linecap="round"/><path d="M742 1440.5 L732.3 1483.5" stroke="#4fbc68" stroke-width="2.2" stroke-linecap="round"/><path d="M742 1440.5 L732.3 1483.5" stroke="#9fd89f" stroke-width="1.1" stroke-linecap="round"/>
<path d="M776 1436.1 L767 1479.7" stroke="#07893f" stroke-width="5.3" stroke-linecap="round"/><path d="M776 1436.1 L767 1479.7" stroke="#1aa94f" stroke-width="3.3" stroke-linecap="round"/><path d="M776 1436.1 L767 1479.7" stroke="#4fbc68" stroke-width="2.2" stroke-linecap="round"/><path d="M776 1436.1 L767 1479.7" stroke="#9fd89f" stroke-width="1.1" stroke-linecap="round"/>
<path d="M813 1431.5 L804.8 1475.3" stroke="#07893f" stroke-width="5.3" stroke-linecap="round"/><path d="M813 1431.5 L804.8 1475.3" stroke="#1aa94f" stroke-width="3.3" stroke-linecap="round"/><path d="M813 1431.5 L804.8 1475.3" stroke="#4fbc68" stroke-width="2.2" stroke-linecap="round"/><path d="M813 1431.5 L804.8 1475.3" stroke="#9fd89f" stroke-width="1.1" stroke-linecap="round"/>
<path d="M956.7 1418.9 L951.9 1458.9" stroke="#07893f" stroke-width="5.3" stroke-linecap="round"/><path d="M956.7 1418.9 L951.9 1458.9" stroke="#1aa94f" stroke-width="3.3" stroke-linecap="round"/><path d="M956.7 1418.9 L951.9 1458.9" stroke="#4fbc68" stroke-width="2.2" stroke-linecap="round"/><path d="M956.7 1418.9 L951.9 1458.9" stroke="#9fd89f" stroke-width="1.1" stroke-linecap="round"/>
<path d="M988 1415.7 L983.5 1455.6" stroke="#07893f" stroke-width="5.3" stroke-linecap="round"/><path d="M988 1415.7 L983.5 1455.6" stroke="#1aa94f" stroke-width="3.3" stroke-linecap="round"/><path d="M988 1415.7 L983.5 1455.6" stroke="#4fbc68" stroke-width="2.2" stroke-linecap="round"/><path d="M988 1415.7 L983.5 1455.6" stroke="#9fd89f" stroke-width="1.1" stroke-linecap="round"/>
<path d="M1022 1412.1 L1017.7 1451.9" stroke="#07893f" stroke-width="5.3" stroke-linecap="round"/><path d="M1022 1412.1 L1017.7 1451.9" stroke="#1aa94f" stroke-width="3.3" stroke-linecap="round"/><path d="M1022 1412.1 L1017.7 1451.9" stroke="#4fbc68" stroke-width="2.2" stroke-linecap="round"/><path d="M1022 1412.1 L1017.7 1451.9" stroke="#9fd89f" stroke-width="1.1" stroke-linecap="round"/>
<path d="M1053.4 1408.8 L1049.4 1448.6" stroke="#07893f" stroke-width="5.3" stroke-linecap="round"/><path d="M1053.4 1408.8 L1049.4 1448.6" stroke="#1aa94f" stroke-width="3.3" stroke-linecap="round"/><path d="M1053.4 1408.8 L1049.4 1448.6" stroke="#4fbc68" stroke-width="2.2" stroke-linecap="round"/><path d="M1053.4 1408.8 L1049.4 1448.6" stroke="#9fd89f" stroke-width="1.1" stroke-linecap="round"/>
<path d="M1086.5 1405.3 L1082.7 1445.2" stroke="#07893f" stroke-width="5.3" stroke-linecap="round"/><path d="M1086.5 1405.3 L1082.7 1445.2" stroke="#1aa94f" stroke-width="3.3" stroke-linecap="round"/><path d="M1086.5 1405.3 L1082.7 1445.2" stroke="#4fbc68" stroke-width="2.2" stroke-linecap="round"/><path d="M1086.5 1405.3 L1082.7 1445.2" stroke="#9fd89f" stroke-width="1.1" stroke-linecap="round"/>
<path d="M1117.8 1402.1 L1114.2 1441.6" stroke="#07893f" stroke-width="5.3" stroke-linecap="round"/><path d="M1117.8 1402.1 L1114.2 1441.6" stroke="#1aa94f" stroke-width="3.3" stroke-linecap="round"/><path d="M1117.8 1402.1 L1114.2 1441.6" stroke="#4fbc68" stroke-width="2.2" stroke-linecap="round"/><path d="M1117.8 1402.1 L1114.2 1441.6" stroke="#9fd89f" stroke-width="1.1" stroke-linecap="round"/>
<path d="M1150 1398.7 L1146.7 1438.3" stroke="#07893f" stroke-width="5.3" stroke-linecap="round"/><path d="M1150 1398.7 L1146.7 1438.3" stroke="#1aa94f" stroke-width="3.3" stroke-linecap="round"/><path d="M1150 1398.7 L1146.7 1438.3" stroke="#4fbc68" stroke-width="2.2" stroke-linecap="round"/><path d="M1150 1398.7 L1146.7 1438.3" stroke="#9fd89f" stroke-width="1.1" stroke-linecap="round"/>
<path d="M1182.3 1395.3 L1179.2 1434.9" stroke="#07893f" stroke-width="5.3" stroke-linecap="round"/><path d="M1182.3 1395.3 L1179.2 1434.9" stroke="#1aa94f" stroke-width="3.3" stroke-linecap="round"/><path d="M1182.3 1395.3 L1179.2 1434.9" stroke="#4fbc68" stroke-width="2.2" stroke-linecap="round"/><path d="M1182.3 1395.3 L1179.2 1434.9" stroke="#9fd89f" stroke-width="1.1" stroke-linecap="round"/>
<path d="M1213.7 1392 L1210.8 1431.4" stroke="#07893f" stroke-width="5.3" stroke-linecap="round"/><path d="M1213.7 1392 L1210.8 1431.4" stroke="#1aa94f" stroke-width="3.3" stroke-linecap="round"/><path d="M1213.7 1392 L1210.8 1431.4" stroke="#4fbc68" stroke-width="2.2" stroke-linecap="round"/><path d="M1213.7 1392 L1210.8 1431.4" stroke="#9fd89f" stroke-width="1.1" stroke-linecap="round"/>
<path d="M1455.2 1368 L1461.7 1405.9" stroke="#07893f" stroke-width="5.3" stroke-linecap="round"/><path d="M1455.2 1368 L1461.7 1405.9" stroke="#1aa94f" stroke-width="3.3" stroke-linecap="round"/><path d="M1455.2 1368 L1461.7 1405.9" stroke="#4fbc68" stroke-width="2.2" stroke-linecap="round"/><path d="M1455.2 1368 L1461.7 1405.9" stroke="#9fd89f" stroke-width="1.1" stroke-linecap="round"/>
<path d="M1484.8 1365.3 L1492.4 1402.8" stroke="#07893f" stroke-width="5.3" stroke-linecap="round"/><path d="M1484.8 1365.3 L1492.4 1402.8" stroke="#1aa94f" stroke-width="3.3" stroke-linecap="round"/><path d="M1484.8 1365.3 L1492.4 1402.8" stroke="#4fbc68" stroke-width="2.2" stroke-linecap="round"/><path d="M1484.8 1365.3 L1492.4 1402.8" stroke="#9fd89f" stroke-width="1.1" stroke-linecap="round"/>
<path d="M1585 1358 L1596.6 1394.7" stroke="#07893f" stroke-width="5.3" stroke-linecap="round"/><path d="M1585 1358 L1596.6 1394.7" stroke="#1aa94f" stroke-width="3.3" stroke-linecap="round"/><path d="M1585 1358 L1596.6 1394.7" stroke="#4fbc68" stroke-width="2.2" stroke-linecap="round"/><path d="M1585 1358 L1596.6 1394.7" stroke="#9fd89f" stroke-width="1.1" stroke-linecap="round"/>
<path d="M1622 1355.5 L1635 1392" stroke="#07893f" stroke-width="5.3" stroke-linecap="round"/><path d="M1622 1355.5 L1635 1392" stroke="#1aa94f" stroke-width="3.3" stroke-linecap="round"/><path d="M1622 1355.5 L1635 1392" stroke="#4fbc68" stroke-width="2.2" stroke-linecap="round"/><path d="M1622 1355.5 L1635 1392" stroke="#9fd89f" stroke-width="1.1" stroke-linecap="round"/>
<path d="M1648 1353.6 L1662 1390.3" stroke="#07893f" stroke-width="5.3" stroke-linecap="round"/><path d="M1648 1353.6 L1662 1390.3" stroke="#1aa94f" stroke-width="3.3" stroke-linecap="round"/><path d="M1648 1353.6 L1662 1390.3" stroke="#4fbc68" stroke-width="2.2" stroke-linecap="round"/><path d="M1648 1353.6 L1662 1390.3" stroke="#9fd89f" stroke-width="1.1" stroke-linecap="round"/>
<path d="M1683 1351.2 L1698.3 1387.9" stroke="#07893f" stroke-width="5.3" stroke-linecap="round"/><path d="M1683 1351.2 L1698.3 1387.9" stroke="#1aa94f" stroke-width="3.3" stroke-linecap="round"/><path d="M1683 1351.2 L1698.3 1387.9" stroke="#4fbc68" stroke-width="2.2" stroke-linecap="round"/><path d="M1683 1351.2 L1698.3 1387.9" stroke="#9fd89f" stroke-width="1.1" stroke-linecap="round"/>
<path d="M1716 1348.9 L1732.7 1385.8" stroke="#07893f" stroke-width="5.3" stroke-linecap="round"/><path d="M1716 1348.9 L1732.7 1385.8" stroke="#1aa94f" stroke-width="3.3" stroke-linecap="round"/><path d="M1716 1348.9 L1732.7 1385.8" stroke="#4fbc68" stroke-width="2.2" stroke-linecap="round"/><path d="M1716 1348.9 L1732.7 1385.8" stroke="#9fd89f" stroke-width="1.1" stroke-linecap="round"/>
<path d="M1749 1346.6 L1767.2 1383.9" stroke="#07893f" stroke-width="5.3" stroke-linecap="round"/><path d="M1749 1346.6 L1767.2 1383.9" stroke="#1aa94f" stroke-width="3.3" stroke-linecap="round"/><path d="M1749 1346.6 L1767.2 1383.9" stroke="#4fbc68" stroke-width="2.2" stroke-linecap="round"/><path d="M1749 1346.6 L1767.2 1383.9" stroke="#9fd89f" stroke-width="1.1" stroke-linecap="round"/>
<path d="M1784 1344.1 L1804.1 1382.4" stroke="#07893f" stroke-width="5.3" stroke-linecap="round"/><path d="M1784 1344.1 L1804.1 1382.4" stroke="#1aa94f" stroke-width="3.3" stroke-linecap="round"/><path d="M1784 1344.1 L1804.1 1382.4" stroke="#4fbc68" stroke-width="2.2" stroke-linecap="round"/><path d="M1784 1344.1 L1804.1 1382.4" stroke="#9fd89f" stroke-width="1.1" stroke-linecap="round"/>
<path d="M1819 1342.4 L1840.8 1381" stroke="#07893f" stroke-width="5.3" stroke-linecap="round"/><path d="M1819 1342.4 L1840.8 1381" stroke="#1aa94f" stroke-width="3.3" stroke-linecap="round"/><path d="M1819 1342.4 L1840.8 1381" stroke="#4fbc68" stroke-width="2.2" stroke-linecap="round"/><path d="M1819 1342.4 L1840.8 1381" stroke="#9fd89f" stroke-width="1.1" stroke-linecap="round"/>
<path d="M1854 1341.4 L1877.2 1379.7" stroke="#07893f" stroke-width="5.3" stroke-linecap="round"/><path d="M1854 1341.4 L1877.2 1379.7" stroke="#1aa94f" stroke-width="3.3" stroke-linecap="round"/><path d="M1854 1341.4 L1877.2 1379.7" stroke="#4fbc68" stroke-width="2.2" stroke-linecap="round"/><path d="M1854 1341.4 L1877.2 1379.7" stroke="#9fd89f" stroke-width="1.1" stroke-linecap="round"/>
<path d="M1889.6 1341.3 L1914.6 1379.9" stroke="#07893f" stroke-width="5.3" stroke-linecap="round"/><path d="M1889.6 1341.3 L1914.6 1379.9" stroke="#1aa94f" stroke-width="3.3" stroke-linecap="round"/><path d="M1889.6 1341.3 L1914.6 1379.9" stroke="#4fbc68" stroke-width="2.2" stroke-linecap="round"/><path d="M1889.6 1341.3 L1914.6 1379.9" stroke="#9fd89f" stroke-width="1.1" stroke-linecap="round"/>
<path d="M1922.7 1341.9 L1949.8 1381.2" stroke="#07893f" stroke-width="5.3" stroke-linecap="round"/><path d="M1922.7 1341.9 L1949.8 1381.2" stroke="#1aa94f" stroke-width="3.3" stroke-linecap="round"/><path d="M1922.7 1341.9 L1949.8 1381.2" stroke="#4fbc68" stroke-width="2.2" stroke-linecap="round"/><path d="M1922.7 1341.9 L1949.8 1381.2" stroke="#9fd89f" stroke-width="1.1" stroke-linecap="round"/>
<path d="M1959.3 1343.7 L1988.7 1384.7" stroke="#07893f" stroke-width="5.3" stroke-linecap="round"/><path d="M1959.3 1343.7 L1988.7 1384.7" stroke="#1aa94f" stroke-width="3.3" stroke-linecap="round"/><path d="M1959.3 1343.7 L1988.7 1384.7" stroke="#4fbc68" stroke-width="2.2" stroke-linecap="round"/><path d="M1959.3 1343.7 L1988.7 1384.7" stroke="#9fd89f" stroke-width="1.1" stroke-linecap="round"/>
<path d="M1997.6 1345.9 L2028.9 1388.3" stroke="#07893f" stroke-width="5.3" stroke-linecap="round"/><path d="M1997.6 1345.9 L2028.9 1388.3" stroke="#1aa94f" stroke-width="3.3" stroke-linecap="round"/><path d="M1997.6 1345.9 L2028.9 1388.3" stroke="#4fbc68" stroke-width="2.2" stroke-linecap="round"/><path d="M1997.6 1345.9 L2028.9 1388.3" stroke="#9fd89f" stroke-width="1.1" stroke-linecap="round"/>
<path d="M2034.2 1350.1 L2065.7 1391.7" stroke="#07893f" stroke-width="5.3" stroke-linecap="round"/><path d="M2034.2 1350.1 L2065.7 1391.7" stroke="#1aa94f" stroke-width="3.3" stroke-linecap="round"/><path d="M2034.2 1350.1 L2065.7 1391.7" stroke="#4fbc68" stroke-width="2.2" stroke-linecap="round"/><path d="M2034.2 1350.1 L2065.7 1391.7" stroke="#9fd89f" stroke-width="1.1" stroke-linecap="round"/>
<path d="M2072.5 1354.6 L2105.1 1396.4" stroke="#07893f" stroke-width="5.3" stroke-linecap="round"/><path d="M2072.5 1354.6 L2105.1 1396.4" stroke="#1aa94f" stroke-width="3.3" stroke-linecap="round"/><path d="M2072.5 1354.6 L2105.1 1396.4" stroke="#4fbc68" stroke-width="2.2" stroke-linecap="round"/><path d="M2072.5 1354.6 L2105.1 1396.4" stroke="#9fd89f" stroke-width="1.1" stroke-linecap="round"/>
<path d="M2110.9 1359.2 L2144.5 1401.1" stroke="#07893f" stroke-width="5.3" stroke-linecap="round"/><path d="M2110.9 1359.2 L2144.5 1401.1" stroke="#1aa94f" stroke-width="3.3" stroke-linecap="round"/><path d="M2110.9 1359.2 L2144.5 1401.1" stroke="#4fbc68" stroke-width="2.2" stroke-linecap="round"/><path d="M2110.9 1359.2 L2144.5 1401.1" stroke="#9fd89f" stroke-width="1.1" stroke-linecap="round"/>
<path d="M2151 1363.9 L2186 1406.4" stroke="#07893f" stroke-width="5.3" stroke-linecap="round"/><path d="M2151 1363.9 L2186 1406.4" stroke="#1aa94f" stroke-width="3.3" stroke-linecap="round"/><path d="M2151 1363.9 L2186 1406.4" stroke="#4fbc68" stroke-width="2.2" stroke-linecap="round"/><path d="M2151 1363.9 L2186 1406.4" stroke="#9fd89f" stroke-width="1.1" stroke-linecap="round"/>
<path d="M2191 1368.6 L2227.4 1411.5" stroke="#07893f" stroke-width="5.3" stroke-linecap="round"/><path d="M2191 1368.6 L2227.4 1411.5" stroke="#1aa94f" stroke-width="3.3" stroke-linecap="round"/><path d="M2191 1368.6 L2227.4 1411.5" stroke="#4fbc68" stroke-width="2.2" stroke-linecap="round"/><path d="M2191 1368.6 L2227.4 1411.5" stroke="#9fd89f" stroke-width="1.1" stroke-linecap="round"/>
<path d="M2231 1373.3 L2268.8 1416.6" stroke="#07893f" stroke-width="5.3" stroke-linecap="round"/><path d="M2231 1373.3 L2268.8 1416.6" stroke="#1aa94f" stroke-width="3.3" stroke-linecap="round"/><path d="M2231 1373.3 L2268.8 1416.6" stroke="#4fbc68" stroke-width="2.2" stroke-linecap="round"/><path d="M2231 1373.3 L2268.8 1416.6" stroke="#9fd89f" stroke-width="1.1" stroke-linecap="round"/>
<path d="M2271.4 1378 L2310.6 1421.7" stroke="#07893f" stroke-width="5.3" stroke-linecap="round"/><path d="M2271.4 1378 L2310.6 1421.7" stroke="#1aa94f" stroke-width="3.3" stroke-linecap="round"/><path d="M2271.4 1378 L2310.6 1421.7" stroke="#4fbc68" stroke-width="2.2" stroke-linecap="round"/><path d="M2271.4 1378 L2310.6 1421.7" stroke="#9fd89f" stroke-width="1.1" stroke-linecap="round"/>
<path d="M2313.2 1382.7 L2354 1427" stroke="#07893f" stroke-width="5.3" stroke-linecap="round"/><path d="M2313.2 1382.7 L2354 1427" stroke="#1aa94f" stroke-width="3.3" stroke-linecap="round"/><path d="M2313.2 1382.7 L2354 1427" stroke="#4fbc68" stroke-width="2.2" stroke-linecap="round"/><path d="M2313.2 1382.7 L2354 1427" stroke="#9fd89f" stroke-width="1.1" stroke-linecap="round"/>
<path d="M2355 1387.4 L2397.1 1431.9" stroke="#07893f" stroke-width="5.3" stroke-linecap="round"/><path d="M2355 1387.4 L2397.1 1431.9" stroke="#1aa94f" stroke-width="3.3" stroke-linecap="round"/><path d="M2355 1387.4 L2397.1 1431.9" stroke="#4fbc68" stroke-width="2.2" stroke-linecap="round"/><path d="M2355 1387.4 L2397.1 1431.9" stroke="#9fd89f" stroke-width="1.1" stroke-linecap="round"/>
<path d="M2396.8 1391.8 L2440.4 1436.6" stroke="#07893f" stroke-width="5.3" stroke-linecap="round"/><path d="M2396.8 1391.8 L2440.4 1436.6" stroke="#1aa94f" stroke-width="3.3" stroke-linecap="round"/><path d="M2396.8 1391.8 L2440.4 1436.6" stroke="#4fbc68" stroke-width="2.2" stroke-linecap="round"/><path d="M2396.8 1391.8 L2440.4 1436.6" stroke="#9fd89f" stroke-width="1.1" stroke-linecap="round"/>
<path d="M2435.1 1395.8 L2480 1440.8" stroke="#07893f" stroke-width="5.3" stroke-linecap="round"/><path d="M2435.1 1395.8 L2480 1440.8" stroke="#1aa94f" stroke-width="3.3" stroke-linecap="round"/><path d="M2435.1 1395.8 L2480 1440.8" stroke="#4fbc68" stroke-width="2.2" stroke-linecap="round"/><path d="M2435.1 1395.8 L2480 1440.8" stroke="#9fd89f" stroke-width="1.1" stroke-linecap="round"/>
<path d="M2555.3 1407.5 L2602.2 1451.1" stroke="#07893f" stroke-width="5.3" stroke-linecap="round"/><path d="M2555.3 1407.5 L2602.2 1451.1" stroke="#1aa94f" stroke-width="3.3" stroke-linecap="round"/><path d="M2555.3 1407.5 L2602.2 1451.1" stroke="#4fbc68" stroke-width="2.2" stroke-linecap="round"/><path d="M2555.3 1407.5 L2602.2 1451.1" stroke="#9fd89f" stroke-width="1.1" stroke-linecap="round"/>
<path d="M2602.4 1410.7 L2646.8 1450.6" stroke="#07893f" stroke-width="5.3" stroke-linecap="round"/><path d="M2602.4 1410.7 L2646.8 1450.6" stroke="#1aa94f" stroke-width="3.3" stroke-linecap="round"/><path d="M2602.4 1410.7 L2646.8 1450.6" stroke="#4fbc68" stroke-width="2.2" stroke-linecap="round"/><path d="M2602.4 1410.7 L2646.8 1450.6" stroke="#9fd89f" stroke-width="1.1" stroke-linecap="round"/>
<path d="M2633.7 1412.6 L2677.1 1450.4" stroke="#07893f" stroke-width="5.3" stroke-linecap="round"/><path d="M2633.7 1412.6 L2677.1 1450.4" stroke="#1aa94f" stroke-width="3.3" stroke-linecap="round"/><path d="M2633.7 1412.6 L2677.1 1450.4" stroke="#4fbc68" stroke-width="2.2" stroke-linecap="round"/><path d="M2633.7 1412.6 L2677.1 1450.4" stroke="#9fd89f" stroke-width="1.1" stroke-linecap="round"/>
<path d="M2666.2 1412.8 L2709.8 1449.5" stroke="#07893f" stroke-width="5.3" stroke-linecap="round"/><path d="M2666.2 1412.8 L2709.8 1449.5" stroke="#1aa94f" stroke-width="3.3" stroke-linecap="round"/><path d="M2666.2 1412.8 L2709.8 1449.5" stroke="#4fbc68" stroke-width="2.2" stroke-linecap="round"/><path d="M2666.2 1412.8 L2709.8 1449.5" stroke="#9fd89f" stroke-width="1.1" stroke-linecap="round"/>
<path d="M2699.3 1412.5 L2740.5 1446.2" stroke="#07893f" stroke-width="5.3" stroke-linecap="round"/><path d="M2699.3 1412.5 L2740.5 1446.2" stroke="#1aa94f" stroke-width="3.3" stroke-linecap="round"/><path d="M2699.3 1412.5 L2740.5 1446.2" stroke="#4fbc68" stroke-width="2.2" stroke-linecap="round"/><path d="M2699.3 1412.5 L2740.5 1446.2" stroke="#9fd89f" stroke-width="1.1" stroke-linecap="round"/>
<path d="M2732.4 1409.6 L2773.8 1442.3" stroke="#07893f" stroke-width="5.3" stroke-linecap="round"/><path d="M2732.4 1409.6 L2773.8 1442.3" stroke="#1aa94f" stroke-width="3.3" stroke-linecap="round"/><path d="M2732.4 1409.6 L2773.8 1442.3" stroke="#4fbc68" stroke-width="2.2" stroke-linecap="round"/><path d="M2732.4 1409.6 L2773.8 1442.3" stroke="#9fd89f" stroke-width="1.1" stroke-linecap="round"/>
<path d="M2763.8 1405.2 L2803.5 1435.6" stroke="#07893f" stroke-width="5.3" stroke-linecap="round"/><path d="M2763.8 1405.2 L2803.5 1435.6" stroke="#1aa94f" stroke-width="3.3" stroke-linecap="round"/><path d="M2763.8 1405.2 L2803.5 1435.6" stroke="#4fbc68" stroke-width="2.2" stroke-linecap="round"/><path d="M2763.8 1405.2 L2803.5 1435.6" stroke="#9fd89f" stroke-width="1.1" stroke-linecap="round"/>
<path d="M2795 1399 L2834.7 1428.9" stroke="#07893f" stroke-width="5.3" stroke-linecap="round"/><path d="M2795 1399 L2834.7 1428.9" stroke="#1aa94f" stroke-width="3.3" stroke-linecap="round"/><path d="M2795 1399 L2834.7 1428.9" stroke="#4fbc68" stroke-width="2.2" stroke-linecap="round"/><path d="M2795 1399 L2834.7 1428.9" stroke="#9fd89f" stroke-width="1.1" stroke-linecap="round"/>
<path d="M2824.7 1390.6 L2864.4 1420.5" stroke="#07893f" stroke-width="5.3" stroke-linecap="round"/><path d="M2824.7 1390.6 L2864.4 1420.5" stroke="#1aa94f" stroke-width="3.3" stroke-linecap="round"/><path d="M2824.7 1390.6 L2864.4 1420.5" stroke="#4fbc68" stroke-width="2.2" stroke-linecap="round"/><path d="M2824.7 1390.6 L2864.4 1420.5" stroke="#9fd89f" stroke-width="1.1" stroke-linecap="round"/>
<path d="M2857.8 1380.5 L2897.9 1410.7" stroke="#07893f" stroke-width="5.3" stroke-linecap="round"/><path d="M2857.8 1380.5 L2897.9 1410.7" stroke="#1aa94f" stroke-width="3.3" stroke-linecap="round"/><path d="M2857.8 1380.5 L2897.9 1410.7" stroke="#4fbc68" stroke-width="2.2" stroke-linecap="round"/><path d="M2857.8 1380.5 L2897.9 1410.7" stroke="#9fd89f" stroke-width="1.1" stroke-linecap="round"/>
<path d="M2885.7 1371.6 L2925 1401.2" stroke="#07893f" stroke-width="5.3" stroke-linecap="round"/><path d="M2885.7 1371.6 L2925 1401.2" stroke="#1aa94f" stroke-width="3.3" stroke-linecap="round"/><path d="M2885.7 1371.6 L2925 1401.2" stroke="#4fbc68" stroke-width="2.2" stroke-linecap="round"/><path d="M2885.7 1371.6 L2925 1401.2" stroke="#9fd89f" stroke-width="1.1" stroke-linecap="round"/>
<path d="M2914 1362.5 L2952.5 1391.5" stroke="#07893f" stroke-width="5.3" stroke-linecap="round"/><path d="M2914 1362.5 L2952.5 1391.5" stroke="#1aa94f" stroke-width="3.3" stroke-linecap="round"/><path d="M2914 1362.5 L2952.5 1391.5" stroke="#4fbc68" stroke-width="2.2" stroke-linecap="round"/><path d="M2914 1362.5 L2952.5 1391.5" stroke="#9fd89f" stroke-width="1.1" stroke-linecap="round"/>
<path d="M2942 1353.5 L2980.1 1381.9" stroke="#07893f" stroke-width="5.3" stroke-linecap="round"/><path d="M2942 1353.5 L2980.1 1381.9" stroke="#1aa94f" stroke-width="3.3" stroke-linecap="round"/><path d="M2942 1353.5 L2980.1 1381.9" stroke="#4fbc68" stroke-width="2.2" stroke-linecap="round"/><path d="M2942 1353.5 L2980.1 1381.9" stroke="#9fd89f" stroke-width="1.1" stroke-linecap="round"/>
<path d="M2972 1344 L3009.3 1371.2" stroke="#07893f" stroke-width="5.3" stroke-linecap="round"/><path d="M2972 1344 L3009.3 1371.2" stroke="#1aa94f" stroke-width="3.3" stroke-linecap="round"/><path d="M2972 1344 L3009.3 1371.2" stroke="#4fbc68" stroke-width="2.2" stroke-linecap="round"/><path d="M2972 1344 L3009.3 1371.2" stroke="#9fd89f" stroke-width="1.1" stroke-linecap="round"/>
<path d="M2999 1335.3 L3034.5 1360.9" stroke="#07893f" stroke-width="5.3" stroke-linecap="round"/><path d="M2999 1335.3 L3034.5 1360.9" stroke="#1aa94f" stroke-width="3.3" stroke-linecap="round"/><path d="M2999 1335.3 L3034.5 1360.9" stroke="#4fbc68" stroke-width="2.2" stroke-linecap="round"/><path d="M2999 1335.3 L3034.5 1360.9" stroke="#9fd89f" stroke-width="1.1" stroke-linecap="round"/>
<path d="M3025 1326.9 L3058.6 1350.8" stroke="#07893f" stroke-width="5.3" stroke-linecap="round"/><path d="M3025 1326.9 L3058.6 1350.8" stroke="#1aa94f" stroke-width="3.3" stroke-linecap="round"/><path d="M3025 1326.9 L3058.6 1350.8" stroke="#4fbc68" stroke-width="2.2" stroke-linecap="round"/><path d="M3025 1326.9 L3058.6 1350.8" stroke="#9fd89f" stroke-width="1.1" stroke-linecap="round"/>
<path d="M3052 1318.1 L3083.9 1340.5" stroke="#07893f" stroke-width="5.3" stroke-linecap="round"/><path d="M3052 1318.1 L3083.9 1340.5" stroke="#1aa94f" stroke-width="3.3" stroke-linecap="round"/><path d="M3052 1318.1 L3083.9 1340.5" stroke="#4fbc68" stroke-width="2.2" stroke-linecap="round"/><path d="M3052 1318.1 L3083.9 1340.5" stroke="#9fd89f" stroke-width="1.1" stroke-linecap="round"/>
<path d="M3078 1309.7 L3108 1330.5" stroke="#07893f" stroke-width="5.3" stroke-linecap="round"/><path d="M3078 1309.7 L3108 1330.5" stroke="#1aa94f" stroke-width="3.3" stroke-linecap="round"/><path d="M3078 1309.7 L3108 1330.5" stroke="#4fbc68" stroke-width="2.2" stroke-linecap="round"/><path d="M3078 1309.7 L3108 1330.5" stroke="#9fd89f" stroke-width="1.1" stroke-linecap="round"/>
<path d="M3102 1302 L3130.3 1321.3" stroke="#07893f" stroke-width="5.3" stroke-linecap="round"/><path d="M3102 1302 L3130.3 1321.3" stroke="#1aa94f" stroke-width="3.3" stroke-linecap="round"/><path d="M3102 1302 L3130.3 1321.3" stroke="#4fbc68" stroke-width="2.2" stroke-linecap="round"/><path d="M3102 1302 L3130.3 1321.3" stroke="#9fd89f" stroke-width="1.1" stroke-linecap="round"/>
<path d="M3128 1293.6 L3154.6 1311.5" stroke="#07893f" stroke-width="5.3" stroke-linecap="round"/><path d="M3128 1293.6 L3154.6 1311.5" stroke="#1aa94f" stroke-width="3.3" stroke-linecap="round"/><path d="M3128 1293.6 L3154.6 1311.5" stroke="#4fbc68" stroke-width="2.2" stroke-linecap="round"/><path d="M3128 1293.6 L3154.6 1311.5" stroke="#9fd89f" stroke-width="1.1" stroke-linecap="round"/>
<path d="M3154 1285.3 L3178.8 1301.7" stroke="#07893f" stroke-width="5.3" stroke-linecap="round"/><path d="M3154 1285.3 L3178.8 1301.7" stroke="#1aa94f" stroke-width="3.3" stroke-linecap="round"/><path d="M3154 1285.3 L3178.8 1301.7" stroke="#4fbc68" stroke-width="2.2" stroke-linecap="round"/><path d="M3154 1285.3 L3178.8 1301.7" stroke="#9fd89f" stroke-width="1.1" stroke-linecap="round"/>
<path d="M3193 1272.8 L3215 1287.1" stroke="#07893f" stroke-width="5.3" stroke-linecap="round"/><path d="M3193 1272.8 L3215 1287.1" stroke="#1aa94f" stroke-width="3.3" stroke-linecap="round"/><path d="M3193 1272.8 L3215 1287.1" stroke="#4fbc68" stroke-width="2.2" stroke-linecap="round"/><path d="M3193 1272.8 L3215 1287.1" stroke="#9fd89f" stroke-width="1.1" stroke-linecap="round"/>
<path d="M1242.6 1389 L1240.5 1428.4" stroke="#4a4b4d" stroke-width="4.8" stroke-linecap="round"/><path d="M1242.6 1389 L1240.5 1428.4" stroke="#6d6e71" stroke-width="3" stroke-linecap="round"/><path d="M1242.6 1389 L1240.5 1428.4" stroke="#8a8b8e" stroke-width="2" stroke-linecap="round"/><path d="M1242.6 1389 L1240.5 1428.4" stroke="#b9babc" stroke-width="1" stroke-linecap="round"/>
<path d="M1274 1385.8 L1273.2 1425" stroke="#4a4b4d" stroke-width="4.8" stroke-linecap="round"/><path d="M1274 1385.8 L1273.2 1425" stroke="#6d6e71" stroke-width="3" stroke-linecap="round"/><path d="M1274 1385.8 L1273.2 1425" stroke="#8a8b8e" stroke-width="2" stroke-linecap="round"/><path d="M1274 1385.8 L1273.2 1425" stroke="#b9babc" stroke-width="1" stroke-linecap="round"/>
<path d="M1305.4 1382.5 L1305.9 1421.5" stroke="#4a4b4d" stroke-width="4.8" stroke-linecap="round"/><path d="M1305.4 1382.5 L1305.9 1421.5" stroke="#6d6e71" stroke-width="3" stroke-linecap="round"/><path d="M1305.4 1382.5 L1305.9 1421.5" stroke="#8a8b8e" stroke-width="2" stroke-linecap="round"/><path d="M1305.4 1382.5 L1305.9 1421.5" stroke="#b9babc" stroke-width="1" stroke-linecap="round"/>
<path d="M1335.9 1379.4 L1337.6 1418.4" stroke="#4a4b4d" stroke-width="4.8" stroke-linecap="round"/><path d="M1335.9 1379.4 L1337.6 1418.4" stroke="#6d6e71" stroke-width="3" stroke-linecap="round"/><path d="M1335.9 1379.4 L1337.6 1418.4" stroke="#8a8b8e" stroke-width="2" stroke-linecap="round"/><path d="M1335.9 1379.4 L1337.6 1418.4" stroke="#b9babc" stroke-width="1" stroke-linecap="round"/>
<path d="M1367.2 1376.3 L1370.2 1415.2" stroke="#4a4b4d" stroke-width="4.8" stroke-linecap="round"/><path d="M1367.2 1376.3 L1370.2 1415.2" stroke="#6d6e71" stroke-width="3" stroke-linecap="round"/><path d="M1367.2 1376.3 L1370.2 1415.2" stroke="#8a8b8e" stroke-width="2" stroke-linecap="round"/><path d="M1367.2 1376.3 L1370.2 1415.2" stroke="#b9babc" stroke-width="1" stroke-linecap="round"/>
<path d="M1397.7 1373.3 L1401.9 1411.8" stroke="#4a4b4d" stroke-width="4.8" stroke-linecap="round"/><path d="M1397.7 1373.3 L1401.9 1411.8" stroke="#6d6e71" stroke-width="3" stroke-linecap="round"/><path d="M1397.7 1373.3 L1401.9 1411.8" stroke="#8a8b8e" stroke-width="2" stroke-linecap="round"/><path d="M1397.7 1373.3 L1401.9 1411.8" stroke="#b9babc" stroke-width="1" stroke-linecap="round"/>
<path d="M1428.2 1370.4 L1433.7 1408.7" stroke="#4a4b4d" stroke-width="4.8" stroke-linecap="round"/><path d="M1428.2 1370.4 L1433.7 1408.7" stroke="#6d6e71" stroke-width="3" stroke-linecap="round"/><path d="M1428.2 1370.4 L1433.7 1408.7" stroke="#8a8b8e" stroke-width="2" stroke-linecap="round"/><path d="M1428.2 1370.4 L1433.7 1408.7" stroke="#b9babc" stroke-width="1" stroke-linecap="round"/>
<path d="M874.6 1424.6 L871.6 1443.9" stroke="#07893f" stroke-width="4" stroke-linecap="round"/><path d="M874.6 1424.6 L871.6 1443.9" stroke="#1aa94f" stroke-width="2.5" stroke-linecap="round"/><path d="M874.6 1424.6 L871.6 1443.9" stroke="#4fbc68" stroke-width="1.7" stroke-linecap="round"/><path d="M874.6 1424.6 L871.6 1443.9" stroke="#9fd89f" stroke-width="0.9" stroke-linecap="round"/>
<path d="M869.6 1444.1 L865.6 1468.4" stroke="#07893f" stroke-width="4" stroke-linecap="round"/><path d="M869.6 1444.1 L865.6 1468.4" stroke="#1aa94f" stroke-width="2.5" stroke-linecap="round"/><path d="M869.6 1444.1 L865.6 1468.4" stroke="#4fbc68" stroke-width="1.7" stroke-linecap="round"/><path d="M869.6 1444.1 L865.6 1468.4" stroke="#9fd89f" stroke-width="0.9" stroke-linecap="round"/>
<path d="M885 1423.7 L882 1443" stroke="#07893f" stroke-width="4" stroke-linecap="round"/><path d="M885 1423.7 L882 1443" stroke="#1aa94f" stroke-width="2.5" stroke-linecap="round"/><path d="M885 1423.7 L882 1443" stroke="#4fbc68" stroke-width="1.7" stroke-linecap="round"/><path d="M885 1423.7 L882 1443" stroke="#9fd89f" stroke-width="0.9" stroke-linecap="round"/>
<path d="M880 1443.2 L876 1467.2" stroke="#07893f" stroke-width="4" stroke-linecap="round"/><path d="M880 1443.2 L876 1467.2" stroke="#1aa94f" stroke-width="2.5" stroke-linecap="round"/><path d="M880 1443.2 L876 1467.2" stroke="#4fbc68" stroke-width="1.7" stroke-linecap="round"/><path d="M880 1443.2 L876 1467.2" stroke="#9fd89f" stroke-width="0.9" stroke-linecap="round"/>
<path d="M896.2 1423.1 L893.2 1442" stroke="#07893f" stroke-width="4" stroke-linecap="round"/><path d="M896.2 1423.1 L893.2 1442" stroke="#1aa94f" stroke-width="2.5" stroke-linecap="round"/><path d="M896.2 1423.1 L893.2 1442" stroke="#4fbc68" stroke-width="1.7" stroke-linecap="round"/><path d="M896.2 1423.1 L893.2 1442" stroke="#9fd89f" stroke-width="0.9" stroke-linecap="round"/>
<path d="M891.2 1442.2 L887.2 1465.9" stroke="#07893f" stroke-width="4" stroke-linecap="round"/><path d="M891.2 1442.2 L887.2 1465.9" stroke="#1aa94f" stroke-width="2.5" stroke-linecap="round"/><path d="M891.2 1442.2 L887.2 1465.9" stroke="#4fbc68" stroke-width="1.7" stroke-linecap="round"/><path d="M891.2 1442.2 L887.2 1465.9" stroke="#9fd89f" stroke-width="0.9" stroke-linecap="round"/>
<path d="M907.3 1422.6 L904.3 1441.1" stroke="#07893f" stroke-width="4" stroke-linecap="round"/><path d="M907.3 1422.6 L904.3 1441.1" stroke="#1aa94f" stroke-width="2.5" stroke-linecap="round"/><path d="M907.3 1422.6 L904.3 1441.1" stroke="#4fbc68" stroke-width="1.7" stroke-linecap="round"/><path d="M907.3 1422.6 L904.3 1441.1" stroke="#9fd89f" stroke-width="0.9" stroke-linecap="round"/>
<path d="M902.3 1441.3 L898.3 1464.7" stroke="#07893f" stroke-width="4" stroke-linecap="round"/><path d="M902.3 1441.3 L898.3 1464.7" stroke="#1aa94f" stroke-width="2.5" stroke-linecap="round"/><path d="M902.3 1441.3 L898.3 1464.7" stroke="#4fbc68" stroke-width="1.7" stroke-linecap="round"/><path d="M902.3 1441.3 L898.3 1464.7" stroke="#9fd89f" stroke-width="0.9" stroke-linecap="round"/>
<path d="M918.5 1422 L915.5 1440.1" stroke="#07893f" stroke-width="4" stroke-linecap="round"/><path d="M918.5 1422 L915.5 1440.1" stroke="#1aa94f" stroke-width="2.5" stroke-linecap="round"/><path d="M918.5 1422 L915.5 1440.1" stroke="#4fbc68" stroke-width="1.7" stroke-linecap="round"/><path d="M918.5 1422 L915.5 1440.1" stroke="#9fd89f" stroke-width="0.9" stroke-linecap="round"/>
<path d="M913.5 1440.3 L909.5 1463.4" stroke="#07893f" stroke-width="4" stroke-linecap="round"/><path d="M913.5 1440.3 L909.5 1463.4" stroke="#1aa94f" stroke-width="2.5" stroke-linecap="round"/><path d="M913.5 1440.3 L909.5 1463.4" stroke="#4fbc68" stroke-width="1.7" stroke-linecap="round"/><path d="M913.5 1440.3 L909.5 1463.4" stroke="#9fd89f" stroke-width="0.9" stroke-linecap="round"/>
<path d="M929.6 1421.4 L926.6 1439.2" stroke="#07893f" stroke-width="4" stroke-linecap="round"/><path d="M929.6 1421.4 L926.6 1439.2" stroke="#1aa94f" stroke-width="2.5" stroke-linecap="round"/><path d="M929.6 1421.4 L926.6 1439.2" stroke="#4fbc68" stroke-width="1.7" stroke-linecap="round"/><path d="M929.6 1421.4 L926.6 1439.2" stroke="#9fd89f" stroke-width="0.9" stroke-linecap="round"/>
<path d="M924.6 1439.4 L920.6 1462.2" stroke="#07893f" stroke-width="4" stroke-linecap="round"/><path d="M924.6 1439.4 L920.6 1462.2" stroke="#1aa94f" stroke-width="2.5" stroke-linecap="round"/><path d="M924.6 1439.4 L920.6 1462.2" stroke="#4fbc68" stroke-width="1.7" stroke-linecap="round"/><path d="M924.6 1439.4 L920.6 1462.2" stroke="#9fd89f" stroke-width="0.9" stroke-linecap="round"/>
<path d="M1507.9 1365.4 L1510.9 1376" stroke="#07893f" stroke-width="4" stroke-linecap="round"/><path d="M1507.9 1365.4 L1510.9 1376" stroke="#1aa94f" stroke-width="2.5" stroke-linecap="round"/><path d="M1507.9 1365.4 L1510.9 1376" stroke="#4fbc68" stroke-width="1.7" stroke-linecap="round"/><path d="M1507.9 1365.4 L1510.9 1376" stroke="#9fd89f" stroke-width="0.9" stroke-linecap="round"/>
<path d="M1512.9 1379 L1516.9 1398.3" stroke="#07893f" stroke-width="4" stroke-linecap="round"/><path d="M1512.9 1379 L1516.9 1398.3" stroke="#1aa94f" stroke-width="2.5" stroke-linecap="round"/><path d="M1512.9 1379 L1516.9 1398.3" stroke="#4fbc68" stroke-width="1.7" stroke-linecap="round"/><path d="M1512.9 1379 L1516.9 1398.3" stroke="#9fd89f" stroke-width="0.9" stroke-linecap="round"/>
<path d="M1519 1364.7 L1522 1376" stroke="#07893f" stroke-width="4" stroke-linecap="round"/><path d="M1519 1364.7 L1522 1376" stroke="#1aa94f" stroke-width="2.5" stroke-linecap="round"/><path d="M1519 1364.7 L1522 1376" stroke="#4fbc68" stroke-width="1.7" stroke-linecap="round"/><path d="M1519 1364.7 L1522 1376" stroke="#9fd89f" stroke-width="0.9" stroke-linecap="round"/>
<path d="M1524 1379 L1528 1397.4" stroke="#07893f" stroke-width="4" stroke-linecap="round"/><path d="M1524 1379 L1528 1397.4" stroke="#1aa94f" stroke-width="2.5" stroke-linecap="round"/><path d="M1524 1379 L1528 1397.4" stroke="#4fbc68" stroke-width="1.7" stroke-linecap="round"/><path d="M1524 1379 L1528 1397.4" stroke="#9fd89f" stroke-width="0.9" stroke-linecap="round"/>
<path d="M1529.5 1363.9 L1532.5 1376" stroke="#07893f" stroke-width="4" stroke-linecap="round"/><path d="M1529.5 1363.9 L1532.5 1376" stroke="#1aa94f" stroke-width="2.5" stroke-linecap="round"/><path d="M1529.5 1363.9 L1532.5 1376" stroke="#4fbc68" stroke-width="1.7" stroke-linecap="round"/><path d="M1529.5 1363.9 L1532.5 1376" stroke="#9fd89f" stroke-width="0.9" stroke-linecap="round"/>
<path d="M1534.5 1379 L1538.5 1396.7" stroke="#07893f" stroke-width="4" stroke-linecap="round"/><path d="M1534.5 1379 L1538.5 1396.7" stroke="#1aa94f" stroke-width="2.5" stroke-linecap="round"/><path d="M1534.5 1379 L1538.5 1396.7" stroke="#4fbc68" stroke-width="1.7" stroke-linecap="round"/><path d="M1534.5 1379 L1538.5 1396.7" stroke="#9fd89f" stroke-width="0.9" stroke-linecap="round"/>
<path d="M1540.6 1363.2 L1543.6 1376" stroke="#07893f" stroke-width="4" stroke-linecap="round"/><path d="M1540.6 1363.2 L1543.6 1376" stroke="#1aa94f" stroke-width="2.5" stroke-linecap="round"/><path d="M1540.6 1363.2 L1543.6 1376" stroke="#4fbc68" stroke-width="1.7" stroke-linecap="round"/><path d="M1540.6 1363.2 L1543.6 1376" stroke="#9fd89f" stroke-width="0.9" stroke-linecap="round"/>
<path d="M1545.6 1379 L1549.6 1395.9" stroke="#07893f" stroke-width="4" stroke-linecap="round"/><path d="M1545.6 1379 L1549.6 1395.9" stroke="#1aa94f" stroke-width="2.5" stroke-linecap="round"/><path d="M1545.6 1379 L1549.6 1395.9" stroke="#4fbc68" stroke-width="1.7" stroke-linecap="round"/><path d="M1545.6 1379 L1549.6 1395.9" stroke="#9fd89f" stroke-width="0.9" stroke-linecap="round"/>
<path d="M1551.8 1362.4 L1554.8 1376" stroke="#07893f" stroke-width="4" stroke-linecap="round"/><path d="M1551.8 1362.4 L1554.8 1376" stroke="#1aa94f" stroke-width="2.5" stroke-linecap="round"/><path d="M1551.8 1362.4 L1554.8 1376" stroke="#4fbc68" stroke-width="1.7" stroke-linecap="round"/><path d="M1551.8 1362.4 L1554.8 1376" stroke="#9fd89f" stroke-width="0.9" stroke-linecap="round"/>
<path d="M1556.8 1379 L1560.8 1395.1" stroke="#07893f" stroke-width="4" stroke-linecap="round"/><path d="M1556.8 1379 L1560.8 1395.1" stroke="#1aa94f" stroke-width="2.5" stroke-linecap="round"/><path d="M1556.8 1379 L1560.8 1395.1" stroke="#4fbc68" stroke-width="1.7" stroke-linecap="round"/><path d="M1556.8 1379 L1560.8 1395.1" stroke="#9fd89f" stroke-width="0.9" stroke-linecap="round"/>
<path d="M1562.9 1361.6 L1565.9 1376" stroke="#07893f" stroke-width="4" stroke-linecap="round"/><path d="M1562.9 1361.6 L1565.9 1376" stroke="#1aa94f" stroke-width="2.5" stroke-linecap="round"/><path d="M1562.9 1361.6 L1565.9 1376" stroke="#4fbc68" stroke-width="1.7" stroke-linecap="round"/><path d="M1562.9 1361.6 L1565.9 1376" stroke="#9fd89f" stroke-width="0.9" stroke-linecap="round"/>
<path d="M1567.9 1379 L1571.9 1394.3" stroke="#07893f" stroke-width="4" stroke-linecap="round"/><path d="M1567.9 1379 L1571.9 1394.3" stroke="#1aa94f" stroke-width="2.5" stroke-linecap="round"/><path d="M1567.9 1379 L1571.9 1394.3" stroke="#4fbc68" stroke-width="1.7" stroke-linecap="round"/><path d="M1567.9 1379 L1571.9 1394.3" stroke="#9fd89f" stroke-width="0.9" stroke-linecap="round"/>
<path d="M2464 1400.8 L2476 1413.9" stroke="#07893f" stroke-width="4.6" stroke-linecap="round"/><path d="M2464 1400.8 L2476 1413.9" stroke="#1aa94f" stroke-width="2.9" stroke-linecap="round"/><path d="M2464 1400.8 L2476 1413.9" stroke="#4fbc68" stroke-width="1.9" stroke-linecap="round"/><path d="M2464 1400.8 L2476 1413.9" stroke="#9fd89f" stroke-width="0.9" stroke-linecap="round"/>
<path d="M2475.5 1401.9 L2487.5 1415" stroke="#07893f" stroke-width="4.6" stroke-linecap="round"/><path d="M2475.5 1401.9 L2487.5 1415" stroke="#1aa94f" stroke-width="2.9" stroke-linecap="round"/><path d="M2475.5 1401.9 L2487.5 1415" stroke="#4fbc68" stroke-width="1.9" stroke-linecap="round"/><path d="M2475.5 1401.9 L2487.5 1415" stroke="#9fd89f" stroke-width="0.9" stroke-linecap="round"/>
<path d="M2488 1403.1 L2500 1416.2" stroke="#07893f" stroke-width="4.6" stroke-linecap="round"/><path d="M2488 1403.1 L2500 1416.2" stroke="#1aa94f" stroke-width="2.9" stroke-linecap="round"/><path d="M2488 1403.1 L2500 1416.2" stroke="#4fbc68" stroke-width="1.9" stroke-linecap="round"/><path d="M2488 1403.1 L2500 1416.2" stroke="#9fd89f" stroke-width="0.9" stroke-linecap="round"/>
<path d="M2499.6 1404.2 L2511.6 1417.3" stroke="#07893f" stroke-width="4.6" stroke-linecap="round"/><path d="M2499.6 1404.2 L2511.6 1417.3" stroke="#1aa94f" stroke-width="2.9" stroke-linecap="round"/><path d="M2499.6 1404.2 L2511.6 1417.3" stroke="#4fbc68" stroke-width="1.9" stroke-linecap="round"/><path d="M2499.6 1404.2 L2511.6 1417.3" stroke="#9fd89f" stroke-width="0.9" stroke-linecap="round"/>
<path d="M2512 1405.4 L2524 1418.5" stroke="#07893f" stroke-width="4.6" stroke-linecap="round"/><path d="M2512 1405.4 L2524 1418.5" stroke="#1aa94f" stroke-width="2.9" stroke-linecap="round"/><path d="M2512 1405.4 L2524 1418.5" stroke="#4fbc68" stroke-width="1.9" stroke-linecap="round"/><path d="M2512 1405.4 L2524 1418.5" stroke="#9fd89f" stroke-width="0.9" stroke-linecap="round"/>
<path d="M2523.6 1406.5 L2535.6 1419.7" stroke="#07893f" stroke-width="4.6" stroke-linecap="round"/><path d="M2523.6 1406.5 L2535.6 1419.7" stroke="#1aa94f" stroke-width="2.9" stroke-linecap="round"/><path d="M2523.6 1406.5 L2535.6 1419.7" stroke="#4fbc68" stroke-width="1.9" stroke-linecap="round"/><path d="M2523.6 1406.5 L2535.6 1419.7" stroke="#9fd89f" stroke-width="0.9" stroke-linecap="round"/>
<path d="M2487 1420.8 L2500 1440.9" stroke="#07893f" stroke-width="4.6" stroke-linecap="round"/><path d="M2487 1420.8 L2500 1440.9" stroke="#1aa94f" stroke-width="2.9" stroke-linecap="round"/><path d="M2487 1420.8 L2500 1440.9" stroke="#4fbc68" stroke-width="1.9" stroke-linecap="round"/><path d="M2487 1420.8 L2500 1440.9" stroke="#9fd89f" stroke-width="0.9" stroke-linecap="round"/>
<path d="M2498.5 1421.8 L2511.5 1441.8" stroke="#07893f" stroke-width="4.6" stroke-linecap="round"/><path d="M2498.5 1421.8 L2511.5 1441.8" stroke="#1aa94f" stroke-width="2.9" stroke-linecap="round"/><path d="M2498.5 1421.8 L2511.5 1441.8" stroke="#4fbc68" stroke-width="1.9" stroke-linecap="round"/><path d="M2498.5 1421.8 L2511.5 1441.8" stroke="#9fd89f" stroke-width="0.9" stroke-linecap="round"/>
<path d="M2511 1422.8 L2524 1442.9" stroke="#07893f" stroke-width="4.6" stroke-linecap="round"/><path d="M2511 1422.8 L2524 1442.9" stroke="#1aa94f" stroke-width="2.9" stroke-linecap="round"/><path d="M2511 1422.8 L2524 1442.9" stroke="#4fbc68" stroke-width="1.9" stroke-linecap="round"/><path d="M2511 1422.8 L2524 1442.9" stroke="#9fd89f" stroke-width="0.9" stroke-linecap="round"/>
<path d="M2522.6 1423.8 L2535.6 1443.8" stroke="#07893f" stroke-width="4.6" stroke-linecap="round"/><path d="M2522.6 1423.8 L2535.6 1443.8" stroke="#1aa94f" stroke-width="2.9" stroke-linecap="round"/><path d="M2522.6 1423.8 L2535.6 1443.8" stroke="#4fbc68" stroke-width="1.9" stroke-linecap="round"/><path d="M2522.6 1423.8 L2535.6 1443.8" stroke="#9fd89f" stroke-width="0.9" stroke-linecap="round"/>
<path d="M2534 1424.8 L2547 1444.7" stroke="#07893f" stroke-width="4.6" stroke-linecap="round"/><path d="M2534 1424.8 L2547 1444.7" stroke="#1aa94f" stroke-width="2.9" stroke-linecap="round"/><path d="M2534 1424.8 L2547 1444.7" stroke="#4fbc68" stroke-width="1.9" stroke-linecap="round"/><path d="M2534 1424.8 L2547 1444.7" stroke="#9fd89f" stroke-width="0.9" stroke-linecap="round"/>
<path d="M2545.6 1425.8 L2558.6 1445.7" stroke="#07893f" stroke-width="4.6" stroke-linecap="round"/><path d="M2545.6 1425.8 L2558.6 1445.7" stroke="#1aa94f" stroke-width="2.9" stroke-linecap="round"/><path d="M2545.6 1425.8 L2558.6 1445.7" stroke="#4fbc68" stroke-width="1.9" stroke-linecap="round"/><path d="M2545.6 1425.8 L2558.6 1445.7" stroke="#9fd89f" stroke-width="0.9" stroke-linecap="round"/>
<path d="M2557 1426.8 L2570 1446.6" stroke="#07893f" stroke-width="4.6" stroke-linecap="round"/><path d="M2557 1426.8 L2570 1446.6" stroke="#1aa94f" stroke-width="2.9" stroke-linecap="round"/><path d="M2557 1426.8 L2570 1446.6" stroke="#4fbc68" stroke-width="1.9" stroke-linecap="round"/><path d="M2557 1426.8 L2570 1446.6" stroke="#9fd89f" stroke-width="0.9" stroke-linecap="round"/>
<path d="M244 1512 C253.3 1510.3 274 1506.3 300 1502 C326 1497.7 368 1491.2 400 1486 C432 1480.8 458.7 1475.7 492 1471 C525.3 1466.3 565.3 1462.2 600 1458 C634.7 1453.8 666.7 1450.2 700 1446 C733.3 1441.8 770 1436.7 800 1433 C830 1429.3 857.2 1426 880 1424 C902.8 1422 879 1426.6 937 1421 C995 1415.4 1162.5 1397.3 1228 1390.5 C1293.5 1383.7 1297.8 1383.2 1330 1380 C1362.2 1376.8 1392.7 1373.7 1421 1371 C1449.3 1368.3 1470.2 1366.3 1500 1364 C1529.8 1361.7 1566.7 1359.3 1600 1357 C1633.3 1354.7 1666.7 1352.3 1700 1350 C1733.3 1347.7 1771.8 1344.5 1800 1343 C1828.2 1341.5 1847.3 1341.2 1869 1341 C1890.7 1340.8 1908.2 1341.2 1930 1342 C1951.8 1342.8 1975 1343.8 2000 1346 C2025 1348.2 2053.3 1352.3 2080 1355.5 C2106.7 1358.7 2126.7 1361.1 2160 1365 C2193.3 1368.9 2246.7 1375.2 2280 1379 C2313.3 1382.8 2330.7 1384.8 2360 1388 C2389.3 1391.2 2422.7 1394.7 2456 1398 C2489.3 1401.3 2529.3 1405.5 2560 1408 C2590.7 1410.5 2616.7 1412.2 2640 1413 C2663.3 1413.8 2681.7 1413.3 2700 1412.5 C2718.3 1411.7 2733.3 1410.4 2750 1408 C2766.7 1405.6 2783.3 1402.2 2800 1398 C2816.7 1393.8 2831 1388.9 2850 1383 C2869 1377.1 2889 1370.5 2914 1362.5 C2939 1354.5 2973.3 1343.6 3000 1335 C3026.7 1326.4 3047.2 1319.7 3074 1311 C3100.8 1302.3 3135.5 1291.2 3161 1283 C3186.5 1274.8 3216 1265.5 3227 1262" stroke="#07893f" stroke-width="10.5" stroke-linecap="round"/><path d="M244 1512 C253.3 1510.3 274 1506.3 300 1502 C326 1497.7 368 1491.2 400 1486 C432 1480.8 458.7 1475.7 492 1471 C525.3 1466.3 565.3 1462.2 600 1458 C634.7 1453.8 666.7 1450.2 700 1446 C733.3 1441.8 770 1436.7 800 1433 C830 1429.3 857.2 1426 880 1424 C902.8 1422 879 1426.6 937 1421 C995 1415.4 1162.5 1397.3 1228 1390.5 C1293.5 1383.7 1297.8 1383.2 1330 1380 C1362.2 1376.8 1392.7 1373.7 1421 1371 C1449.3 1368.3 1470.2 1366.3 1500 1364 C1529.8 1361.7 1566.7 1359.3 1600 1357 C1633.3 1354.7 1666.7 1352.3 1700 1350 C1733.3 1347.7 1771.8 1344.5 1800 1343 C1828.2 1341.5 1847.3 1341.2 1869 1341 C1890.7 1340.8 1908.2 1341.2 1930 1342 C1951.8 1342.8 1975 1343.8 2000 1346 C2025 1348.2 2053.3 1352.3 2080 1355.5 C2106.7 1358.7 2126.7 1361.1 2160 1365 C2193.3 1368.9 2246.7 1375.2 2280 1379 C2313.3 1382.8 2330.7 1384.8 2360 1388 C2389.3 1391.2 2422.7 1394.7 2456 1398 C2489.3 1401.3 2529.3 1405.5 2560 1408 C2590.7 1410.5 2616.7 1412.2 2640 1413 C2663.3 1413.8 2681.7 1413.3 2700 1412.5 C2718.3 1411.7 2733.3 1410.4 2750 1408 C2766.7 1405.6 2783.3 1402.2 2800 1398 C2816.7 1393.8 2831 1388.9 2850 1383 C2869 1377.1 2889 1370.5 2914 1362.5 C2939 1354.5 2973.3 1343.6 3000 1335 C3026.7 1326.4 3047.2 1319.7 3074 1311 C3100.8 1302.3 3135.5 1291.2 3161 1283 C3186.5 1274.8 3216 1265.5 3227 1262" stroke="#1aa94f" stroke-width="8.5" stroke-linecap="round"/><path d="M244 1512 C253.3 1510.3 274 1506.3 300 1502 C326 1497.7 368 1491.2 400 1486 C432 1480.8 458.7 1475.7 492 1471 C525.3 1466.3 565.3 1462.2 600 1458 C634.7 1453.8 666.7 1450.2 700 1446 C733.3 1441.8 770 1436.7 800 1433 C830 1429.3 857.2 1426 880 1424 C902.8 1422 879 1426.6 937 1421 C995 1415.4 1162.5 1397.3 1228 1390.5 C1293.5 1383.7 1297.8 1383.2 1330 1380 C1362.2 1376.8 1392.7 1373.7 1421 1371 C1449.3 1368.3 1470.2 1366.3 1500 1364 C1529.8 1361.7 1566.7 1359.3 1600 1357 C1633.3 1354.7 1666.7 1352.3 1700 1350 C1733.3 1347.7 1771.8 1344.5 1800 1343 C1828.2 1341.5 1847.3 1341.2 1869 1341 C1890.7 1340.8 1908.2 1341.2 1930 1342 C1951.8 1342.8 1975 1343.8 2000 1346 C2025 1348.2 2053.3 1352.3 2080 1355.5 C2106.7 1358.7 2126.7 1361.1 2160 1365 C2193.3 1368.9 2246.7 1375.2 2280 1379 C2313.3 1382.8 2330.7 1384.8 2360 1388 C2389.3 1391.2 2422.7 1394.7 2456 1398 C2489.3 1401.3 2529.3 1405.5 2560 1408 C2590.7 1410.5 2616.7 1412.2 2640 1413 C2663.3 1413.8 2681.7 1413.3 2700 1412.5 C2718.3 1411.7 2733.3 1410.4 2750 1408 C2766.7 1405.6 2783.3 1402.2 2800 1398 C2816.7 1393.8 2831 1388.9 2850 1383 C2869 1377.1 2889 1370.5 2914 1362.5 C2939 1354.5 2973.3 1343.6 3000 1335 C3026.7 1326.4 3047.2 1319.7 3074 1311 C3100.8 1302.3 3135.5 1291.2 3161 1283 C3186.5 1274.8 3216 1265.5 3227 1262" stroke="#4fbc68" stroke-width="4.4" stroke-linecap="round"/><path d="M244 1512 C253.3 1510.3 274 1506.3 300 1502 C326 1497.7 368 1491.2 400 1486 C432 1480.8 458.7 1475.7 492 1471 C525.3 1466.3 565.3 1462.2 600 1458 C634.7 1453.8 666.7 1450.2 700 1446 C733.3 1441.8 770 1436.7 800 1433 C830 1429.3 857.2 1426 880 1424 C902.8 1422 879 1426.6 937 1421 C995 1415.4 1162.5 1397.3 1228 1390.5 C1293.5 1383.7 1297.8 1383.2 1330 1380 C1362.2 1376.8 1392.7 1373.7 1421 1371 C1449.3 1368.3 1470.2 1366.3 1500 1364 C1529.8 1361.7 1566.7 1359.3 1600 1357 C1633.3 1354.7 1666.7 1352.3 1700 1350 C1733.3 1347.7 1771.8 1344.5 1800 1343 C1828.2 1341.5 1847.3 1341.2 1869 1341 C1890.7 1340.8 1908.2 1341.2 1930 1342 C1951.8 1342.8 1975 1343.8 2000 1346 C2025 1348.2 2053.3 1352.3 2080 1355.5 C2106.7 1358.7 2126.7 1361.1 2160 1365 C2193.3 1368.9 2246.7 1375.2 2280 1379 C2313.3 1382.8 2330.7 1384.8 2360 1388 C2389.3 1391.2 2422.7 1394.7 2456 1398 C2489.3 1401.3 2529.3 1405.5 2560 1408 C2590.7 1410.5 2616.7 1412.2 2640 1413 C2663.3 1413.8 2681.7 1413.3 2700 1412.5 C2718.3 1411.7 2733.3 1410.4 2750 1408 C2766.7 1405.6 2783.3 1402.2 2800 1398 C2816.7 1393.8 2831 1388.9 2850 1383 C2869 1377.1 2889 1370.5 2914 1362.5 C2939 1354.5 2973.3 1343.6 3000 1335 C3026.7 1326.4 3047.2 1319.7 3074 1311 C3100.8 1302.3 3135.5 1291.2 3161 1283 C3186.5 1274.8 3216 1265.5 3227 1262" stroke="#9fd89f" stroke-width="2.1" stroke-linecap="round"/>
<path d="M237 1532 C255.8 1530.3 301.2 1526.3 350 1522 C398.8 1517.7 471.7 1511.8 530 1506 C588.3 1500.2 633.2 1494.5 700 1487 C766.8 1479.5 842.2 1470.7 931 1461 C1019.8 1451.3 1166.5 1436 1233 1429 C1299.5 1422 1300.5 1422 1330 1419 C1359.5 1416 1378.3 1414.2 1410 1411 C1441.7 1407.8 1481.7 1403.2 1520 1400 C1558.3 1396.8 1600 1394.2 1640 1391.5 C1680 1388.8 1718 1386.1 1760 1384 C1802 1381.9 1860.3 1379.5 1892 1379 C1923.7 1378.5 1920.5 1378.8 1950 1381 C1979.5 1383.2 2034 1388.3 2069 1392 C2104 1395.7 2124.8 1398.7 2160 1403 C2195.2 1407.3 2243.3 1413.5 2280 1418 C2316.7 1422.5 2343.2 1425.8 2380 1430 C2416.8 1434.2 2464.3 1439.5 2501 1443 C2537.7 1446.5 2566.2 1449.8 2600 1451 C2633.8 1452.2 2675.7 1451.3 2704 1450 C2732.3 1448.7 2747.3 1446.7 2770 1443 C2792.7 1439.3 2818.3 1433.1 2840 1427.6 C2861.7 1422.1 2872.7 1419 2900 1410 C2927.3 1401 2966.3 1387.8 3004 1373.3 C3041.7 1358.8 3085.5 1339.5 3126 1323 C3166.5 1306.5 3226.8 1282.2 3247 1274" stroke="#07893f" stroke-width="10.5" stroke-linecap="round"/><path d="M237 1532 C255.8 1530.3 301.2 1526.3 350 1522 C398.8 1517.7 471.7 1511.8 530 1506 C588.3 1500.2 633.2 1494.5 700 1487 C766.8 1479.5 842.2 1470.7 931 1461 C1019.8 1451.3 1166.5 1436 1233 1429 C1299.5 1422 1300.5 1422 1330 1419 C1359.5 1416 1378.3 1414.2 1410 1411 C1441.7 1407.8 1481.7 1403.2 1520 1400 C1558.3 1396.8 1600 1394.2 1640 1391.5 C1680 1388.8 1718 1386.1 1760 1384 C1802 1381.9 1860.3 1379.5 1892 1379 C1923.7 1378.5 1920.5 1378.8 1950 1381 C1979.5 1383.2 2034 1388.3 2069 1392 C2104 1395.7 2124.8 1398.7 2160 1403 C2195.2 1407.3 2243.3 1413.5 2280 1418 C2316.7 1422.5 2343.2 1425.8 2380 1430 C2416.8 1434.2 2464.3 1439.5 2501 1443 C2537.7 1446.5 2566.2 1449.8 2600 1451 C2633.8 1452.2 2675.7 1451.3 2704 1450 C2732.3 1448.7 2747.3 1446.7 2770 1443 C2792.7 1439.3 2818.3 1433.1 2840 1427.6 C2861.7 1422.1 2872.7 1419 2900 1410 C2927.3 1401 2966.3 1387.8 3004 1373.3 C3041.7 1358.8 3085.5 1339.5 3126 1323 C3166.5 1306.5 3226.8 1282.2 3247 1274" stroke="#1aa94f" stroke-width="8.5" stroke-linecap="round"/><path d="M237 1532 C255.8 1530.3 301.2 1526.3 350 1522 C398.8 1517.7 471.7 1511.8 530 1506 C588.3 1500.2 633.2 1494.5 700 1487 C766.8 1479.5 842.2 1470.7 931 1461 C1019.8 1451.3 1166.5 1436 1233 1429 C1299.5 1422 1300.5 1422 1330 1419 C1359.5 1416 1378.3 1414.2 1410 1411 C1441.7 1407.8 1481.7 1403.2 1520 1400 C1558.3 1396.8 1600 1394.2 1640 1391.5 C1680 1388.8 1718 1386.1 1760 1384 C1802 1381.9 1860.3 1379.5 1892 1379 C1923.7 1378.5 1920.5 1378.8 1950 1381 C1979.5 1383.2 2034 1388.3 2069 1392 C2104 1395.7 2124.8 1398.7 2160 1403 C2195.2 1407.3 2243.3 1413.5 2280 1418 C2316.7 1422.5 2343.2 1425.8 2380 1430 C2416.8 1434.2 2464.3 1439.5 2501 1443 C2537.7 1446.5 2566.2 1449.8 2600 1451 C2633.8 1452.2 2675.7 1451.3 2704 1450 C2732.3 1448.7 2747.3 1446.7 2770 1443 C2792.7 1439.3 2818.3 1433.1 2840 1427.6 C2861.7 1422.1 2872.7 1419 2900 1410 C2927.3 1401 2966.3 1387.8 3004 1373.3 C3041.7 1358.8 3085.5 1339.5 3126 1323 C3166.5 1306.5 3226.8 1282.2 3247 1274" stroke="#4fbc68" stroke-width="4.4" stroke-linecap="round"/><path d="M237 1532 C255.8 1530.3 301.2 1526.3 350 1522 C398.8 1517.7 471.7 1511.8 530 1506 C588.3 1500.2 633.2 1494.5 700 1487 C766.8 1479.5 842.2 1470.7 931 1461 C1019.8 1451.3 1166.5 1436 1233 1429 C1299.5 1422 1300.5 1422 1330 1419 C1359.5 1416 1378.3 1414.2 1410 1411 C1441.7 1407.8 1481.7 1403.2 1520 1400 C1558.3 1396.8 1600 1394.2 1640 1391.5 C1680 1388.8 1718 1386.1 1760 1384 C1802 1381.9 1860.3 1379.5 1892 1379 C1923.7 1378.5 1920.5 1378.8 1950 1381 C1979.5 1383.2 2034 1388.3 2069 1392 C2104 1395.7 2124.8 1398.7 2160 1403 C2195.2 1407.3 2243.3 1413.5 2280 1418 C2316.7 1422.5 2343.2 1425.8 2380 1430 C2416.8 1434.2 2464.3 1439.5 2501 1443 C2537.7 1446.5 2566.2 1449.8 2600 1451 C2633.8 1452.2 2675.7 1451.3 2704 1450 C2732.3 1448.7 2747.3 1446.7 2770 1443 C2792.7 1439.3 2818.3 1433.1 2840 1427.6 C2861.7 1422.1 2872.7 1419 2900 1410 C2927.3 1401 2966.3 1387.8 3004 1373.3 C3041.7 1358.8 3085.5 1339.5 3126 1323 C3166.5 1306.5 3226.8 1282.2 3247 1274" stroke="#9fd89f" stroke-width="2.1" stroke-linecap="round"/>
<path d="M483 1292 C482.5 1295 480.7 1304.7 480 1310 C479.3 1315.3 479.6 1317.6 479 1324 C478.4 1330.4 476.2 1339.4 476.4 1348.6 C476.6 1357.8 478.1 1369.1 480.1 1379.4 C482.2 1389.7 484.1 1396.2 488.7 1410.2 C493.3 1424.2 499.9 1449.8 507.7 1463.3 C515.5 1476.8 524.7 1482.4 535.5 1491 C546.3 1499.6 560.1 1509.1 572.4 1515 C584.7 1520.9 597.1 1525 609.4 1526.2 C621.7 1527.5 631 1526.2 646.4 1522.5 C661.8 1518.8 683.3 1510.2 701.8 1504 C720.3 1497.8 738.8 1490.1 757.3 1485.5 C775.8 1480.9 792.2 1479 812.7 1476.3 C833.2 1473.5 860.3 1471.5 880 1469 C899.7 1466.5 922.5 1462.3 931 1461" stroke="#07893f" stroke-width="10.5" stroke-linecap="round"/><path d="M483 1292 C482.5 1295 480.7 1304.7 480 1310 C479.3 1315.3 479.6 1317.6 479 1324 C478.4 1330.4 476.2 1339.4 476.4 1348.6 C476.6 1357.8 478.1 1369.1 480.1 1379.4 C482.2 1389.7 484.1 1396.2 488.7 1410.2 C493.3 1424.2 499.9 1449.8 507.7 1463.3 C515.5 1476.8 524.7 1482.4 535.5 1491 C546.3 1499.6 560.1 1509.1 572.4 1515 C584.7 1520.9 597.1 1525 609.4 1526.2 C621.7 1527.5 631 1526.2 646.4 1522.5 C661.8 1518.8 683.3 1510.2 701.8 1504 C720.3 1497.8 738.8 1490.1 757.3 1485.5 C775.8 1480.9 792.2 1479 812.7 1476.3 C833.2 1473.5 860.3 1471.5 880 1469 C899.7 1466.5 922.5 1462.3 931 1461" stroke="#1aa94f" stroke-width="8.5" stroke-linecap="round"/><path d="M483 1292 C482.5 1295 480.7 1304.7 480 1310 C479.3 1315.3 479.6 1317.6 479 1324 C478.4 1330.4 476.2 1339.4 476.4 1348.6 C476.6 1357.8 478.1 1369.1 480.1 1379.4 C482.2 1389.7 484.1 1396.2 488.7 1410.2 C493.3 1424.2 499.9 1449.8 507.7 1463.3 C515.5 1476.8 524.7 1482.4 535.5 1491 C546.3 1499.6 560.1 1509.1 572.4 1515 C584.7 1520.9 597.1 1525 609.4 1526.2 C621.7 1527.5 631 1526.2 646.4 1522.5 C661.8 1518.8 683.3 1510.2 701.8 1504 C720.3 1497.8 738.8 1490.1 757.3 1485.5 C775.8 1480.9 792.2 1479 812.7 1476.3 C833.2 1473.5 860.3 1471.5 880 1469 C899.7 1466.5 922.5 1462.3 931 1461" stroke="#4fbc68" stroke-width="4.4" stroke-linecap="round"/><path d="M483 1292 C482.5 1295 480.7 1304.7 480 1310 C479.3 1315.3 479.6 1317.6 479 1324 C478.4 1330.4 476.2 1339.4 476.4 1348.6 C476.6 1357.8 478.1 1369.1 480.1 1379.4 C482.2 1389.7 484.1 1396.2 488.7 1410.2 C493.3 1424.2 499.9 1449.8 507.7 1463.3 C515.5 1476.8 524.7 1482.4 535.5 1491 C546.3 1499.6 560.1 1509.1 572.4 1515 C584.7 1520.9 597.1 1525 609.4 1526.2 C621.7 1527.5 631 1526.2 646.4 1522.5 C661.8 1518.8 683.3 1510.2 701.8 1504 C720.3 1497.8 738.8 1490.1 757.3 1485.5 C775.8 1480.9 792.2 1479 812.7 1476.3 C833.2 1473.5 860.3 1471.5 880 1469 C899.7 1466.5 922.5 1462.3 931 1461" stroke="#9fd89f" stroke-width="2.1" stroke-linecap="round"/>
<path d="M663.9 1715.1 L751.8 1532.7 L782.4 1458.2" stroke="#07893f" stroke-width="10.5" stroke-linecap="round"/><path d="M663.9 1715.1 L751.8 1532.7 L782.4 1458.2" stroke="#1aa94f" stroke-width="8.5" stroke-linecap="round"/><path d="M663.9 1715.1 L751.8 1532.7 L782.4 1458.2" stroke="#4fbc68" stroke-width="4.4" stroke-linecap="round"/><path d="M663.9 1715.1 L751.8 1532.7 L782.4 1458.2" stroke="#9fd89f" stroke-width="2.1" stroke-linecap="round"/>
<path d="M751.8 1532.7 C756.5 1529.2 769.6 1518.8 780 1512 C790.4 1505.2 808.3 1495.3 814 1492" stroke="#07893f" stroke-width="10.5" stroke-linecap="round"/><path d="M751.8 1532.7 C756.5 1529.2 769.6 1518.8 780 1512 C790.4 1505.2 808.3 1495.3 814 1492" stroke="#1aa94f" stroke-width="8.5" stroke-linecap="round"/><path d="M751.8 1532.7 C756.5 1529.2 769.6 1518.8 780 1512 C790.4 1505.2 808.3 1495.3 814 1492" stroke="#4fbc68" stroke-width="4.4" stroke-linecap="round"/><path d="M751.8 1532.7 C756.5 1529.2 769.6 1518.8 780 1512 C790.4 1505.2 808.3 1495.3 814 1492" stroke="#9fd89f" stroke-width="2.1" stroke-linecap="round"/>
<path d="M2758 1449 C2760.8 1450.5 2767.2 1453.3 2775 1458 C2782.8 1462.7 2800 1473.8 2805 1477" stroke="#07893f" stroke-width="7" stroke-linecap="round"/><path d="M2758 1449 C2760.8 1450.5 2767.2 1453.3 2775 1458 C2782.8 1462.7 2800 1473.8 2805 1477" stroke="#1aa94f" stroke-width="5" stroke-linecap="round"/><path d="M2758 1449 C2760.8 1450.5 2767.2 1453.3 2775 1458 C2782.8 1462.7 2800 1473.8 2805 1477" stroke="#4fbc68" stroke-width="2.9" stroke-linecap="round"/><path d="M2758 1449 C2760.8 1450.5 2767.2 1453.3 2775 1458 C2782.8 1462.7 2800 1473.8 2805 1477" stroke="#9fd89f" stroke-width="1.4" stroke-linecap="round"/>
<path d="M1504.4 1378.8 C1512 1378.3 1538.4 1376.6 1550 1376 C1561.6 1375.4 1568 1375 1574 1375.3 C1580 1375.6 1582.8 1376.2 1586 1378 C1589.2 1379.8 1590.9 1382.4 1593 1386 C1595.1 1389.6 1595.8 1393.9 1598.5 1399.7 C1601.2 1405.5 1607.2 1417.1 1609 1420.6" stroke="#07893f" stroke-width="7" stroke-linecap="round"/><path d="M1504.4 1378.8 C1512 1378.3 1538.4 1376.6 1550 1376 C1561.6 1375.4 1568 1375 1574 1375.3 C1580 1375.6 1582.8 1376.2 1586 1378 C1589.2 1379.8 1590.9 1382.4 1593 1386 C1595.1 1389.6 1595.8 1393.9 1598.5 1399.7 C1601.2 1405.5 1607.2 1417.1 1609 1420.6" stroke="#1aa94f" stroke-width="5" stroke-linecap="round"/><path d="M1504.4 1378.8 C1512 1378.3 1538.4 1376.6 1550 1376 C1561.6 1375.4 1568 1375 1574 1375.3 C1580 1375.6 1582.8 1376.2 1586 1378 C1589.2 1379.8 1590.9 1382.4 1593 1386 C1595.1 1389.6 1595.8 1393.9 1598.5 1399.7 C1601.2 1405.5 1607.2 1417.1 1609 1420.6" stroke="#4fbc68" stroke-width="2.9" stroke-linecap="round"/><path d="M1504.4 1378.8 C1512 1378.3 1538.4 1376.6 1550 1376 C1561.6 1375.4 1568 1375 1574 1375.3 C1580 1375.6 1582.8 1376.2 1586 1378 C1589.2 1379.8 1590.9 1382.4 1593 1386 C1595.1 1389.6 1595.8 1393.9 1598.5 1399.7 C1601.2 1405.5 1607.2 1417.1 1609 1420.6" stroke="#9fd89f" stroke-width="1.4" stroke-linecap="round"/>
<path d="M2473.4 1416.7 C2489.7 1417.2 2550.4 1416.5 2571 1420 C2591.6 1423.5 2588.3 1429.9 2597 1437.6 C2605.7 1445.3 2614.1 1460.6 2623.3 1466 C2632.5 1471.4 2632.6 1470 2652 1470 C2671.4 1470 2717 1466 2740 1466 C2763 1466 2775 1465.5 2790 1470 C2805 1474.5 2806.8 1476.6 2830 1493 C2853.2 1509.4 2912.8 1555.7 2929.3 1568.2" stroke="#07893f" stroke-width="8" stroke-linecap="round"/><path d="M2473.4 1416.7 C2489.7 1417.2 2550.4 1416.5 2571 1420 C2591.6 1423.5 2588.3 1429.9 2597 1437.6 C2605.7 1445.3 2614.1 1460.6 2623.3 1466 C2632.5 1471.4 2632.6 1470 2652 1470 C2671.4 1470 2717 1466 2740 1466 C2763 1466 2775 1465.5 2790 1470 C2805 1474.5 2806.8 1476.6 2830 1493 C2853.2 1509.4 2912.8 1555.7 2929.3 1568.2" stroke="#1aa94f" stroke-width="6" stroke-linecap="round"/><path d="M2473.4 1416.7 C2489.7 1417.2 2550.4 1416.5 2571 1420 C2591.6 1423.5 2588.3 1429.9 2597 1437.6 C2605.7 1445.3 2614.1 1460.6 2623.3 1466 C2632.5 1471.4 2632.6 1470 2652 1470 C2671.4 1470 2717 1466 2740 1466 C2763 1466 2775 1465.5 2790 1470 C2805 1474.5 2806.8 1476.6 2830 1493 C2853.2 1509.4 2912.8 1555.7 2929.3 1568.2" stroke="#4fbc68" stroke-width="3.4" stroke-linecap="round"/><path d="M2473.4 1416.7 C2489.7 1417.2 2550.4 1416.5 2571 1420 C2591.6 1423.5 2588.3 1429.9 2597 1437.6 C2605.7 1445.3 2614.1 1460.6 2623.3 1466 C2632.5 1471.4 2632.6 1470 2652 1470 C2671.4 1470 2717 1466 2740 1466 C2763 1466 2775 1465.5 2790 1470 C2805 1474.5 2806.8 1476.6 2830 1493 C2853.2 1509.4 2912.8 1555.7 2929.3 1568.2" stroke="#9fd89f" stroke-width="1.6" stroke-linecap="round"/>
<path d="M814 1492 C816.7 1491.3 824.7 1490.3 830 1488 C835.3 1485.7 842.2 1483.5 846 1478 C849.8 1472.5 849 1460.7 853 1455 C857 1449.3 857 1446.8 869.7 1444 C882.4 1441.2 919.1 1439.2 929 1438.3" stroke="#07893f" stroke-width="7" stroke-linecap="round"/><path d="M814 1492 C816.7 1491.3 824.7 1490.3 830 1488 C835.3 1485.7 842.2 1483.5 846 1478 C849.8 1472.5 849 1460.7 853 1455 C857 1449.3 857 1446.8 869.7 1444 C882.4 1441.2 919.1 1439.2 929 1438.3" stroke="#1aa94f" stroke-width="5" stroke-linecap="round"/><path d="M814 1492 C816.7 1491.3 824.7 1490.3 830 1488 C835.3 1485.7 842.2 1483.5 846 1478 C849.8 1472.5 849 1460.7 853 1455 C857 1449.3 857 1446.8 869.7 1444 C882.4 1441.2 919.1 1439.2 929 1438.3" stroke="#4fbc68" stroke-width="2.9" stroke-linecap="round"/><path d="M814 1492 C816.7 1491.3 824.7 1490.3 830 1488 C835.3 1485.7 842.2 1483.5 846 1478 C849.8 1472.5 849 1460.7 853 1455 C857 1449.3 857 1446.8 869.7 1444 C882.4 1441.2 919.1 1439.2 929 1438.3" stroke="#9fd89f" stroke-width="1.4" stroke-linecap="round"/>
<path d="M1228 1390.5 L1300 1383.1 L1380 1375.1 L1421 1371" stroke="#4a4b4d" stroke-width="11" stroke-linecap="butt"/><path d="M1228 1390.5 L1300 1383.1 L1380 1375.1 L1421 1371" stroke="#6d6e71" stroke-width="9" stroke-linecap="butt"/><path d="M1228 1390.5 L1300 1383.1 L1380 1375.1 L1421 1371" stroke="#8a8b8e" stroke-width="4.6" stroke-linecap="butt"/><path d="M1228 1390.5 L1300 1383.1 L1380 1375.1 L1421 1371" stroke="#b9babc" stroke-width="2.2" stroke-linecap="butt"/>
<path d="M1232 1429.1 L1300 1422.1 L1380 1414 L1410 1411" stroke="#4a4b4d" stroke-width="11" stroke-linecap="butt"/><path d="M1232 1429.1 L1300 1422.1 L1380 1414 L1410 1411" stroke="#6d6e71" stroke-width="9" stroke-linecap="butt"/><path d="M1232 1429.1 L1300 1422.1 L1380 1414 L1410 1411" stroke="#8a8b8e" stroke-width="4.6" stroke-linecap="butt"/><path d="M1232 1429.1 L1300 1422.1 L1380 1414 L1410 1411" stroke="#b9babc" stroke-width="2.2" stroke-linecap="butt"/>
<path d="M1421 1371 L1432.5 1370" stroke="#b0151b" stroke-width="12" stroke-linecap="butt"/><path d="M1421 1371 L1432.5 1370" stroke="#e1252b" stroke-width="10" stroke-linecap="butt"/><path d="M1421 1371 L1432.5 1370" stroke="#ec5a5e" stroke-width="5" stroke-linecap="butt"/><path d="M1421 1371 L1432.5 1370" stroke="#f8a8a8" stroke-width="2.4" stroke-linecap="butt"/>
<path d="M1410 1411 L1421 1409.9" stroke="#b0151b" stroke-width="12" stroke-linecap="butt"/><path d="M1410 1411 L1421 1409.9" stroke="#e1252b" stroke-width="10" stroke-linecap="butt"/><path d="M1410 1411 L1421 1409.9" stroke="#ec5a5e" stroke-width="5" stroke-linecap="butt"/><path d="M1410 1411 L1421 1409.9" stroke="#f8a8a8" stroke-width="2.4" stroke-linecap="butt"/>
<path d="M1869.6 1341 L1882.6 1341.2" stroke="#b0151b" stroke-width="12" stroke-linecap="butt"/><path d="M1869.6 1341 L1882.6 1341.2" stroke="#e1252b" stroke-width="10" stroke-linecap="butt"/><path d="M1869.6 1341 L1882.6 1341.2" stroke="#ec5a5e" stroke-width="5" stroke-linecap="butt"/><path d="M1869.6 1341 L1882.6 1341.2" stroke="#f8a8a8" stroke-width="2.4" stroke-linecap="butt"/>
<path d="M1882.6 1341.2 L1888.7 1341.3" stroke="#4a4b4d" stroke-width="11" stroke-linecap="butt"/><path d="M1882.6 1341.2 L1888.7 1341.3" stroke="#6d6e71" stroke-width="9" stroke-linecap="butt"/><path d="M1882.6 1341.2 L1888.7 1341.3" stroke="#8a8b8e" stroke-width="4.6" stroke-linecap="butt"/><path d="M1882.6 1341.2 L1888.7 1341.3" stroke="#b9babc" stroke-width="2.2" stroke-linecap="butt"/>
<path d="M1886 1379.2 L1898.3 1379.2" stroke="#b0151b" stroke-width="12" stroke-linecap="butt"/><path d="M1886 1379.2 L1898.3 1379.2" stroke="#e1252b" stroke-width="10" stroke-linecap="butt"/><path d="M1886 1379.2 L1898.3 1379.2" stroke="#ec5a5e" stroke-width="5" stroke-linecap="butt"/><path d="M1886 1379.2 L1898.3 1379.2" stroke="#f8a8a8" stroke-width="2.4" stroke-linecap="butt"/>
<path d="M1898.3 1379.2 L1912.3 1379.7" stroke="#4a4b4d" stroke-width="11" stroke-linecap="butt"/><path d="M1898.3 1379.2 L1912.3 1379.7" stroke="#6d6e71" stroke-width="9" stroke-linecap="butt"/><path d="M1898.3 1379.2 L1912.3 1379.7" stroke="#8a8b8e" stroke-width="4.6" stroke-linecap="butt"/><path d="M1898.3 1379.2 L1912.3 1379.7" stroke="#b9babc" stroke-width="2.2" stroke-linecap="butt"/>
<path d="M830 1425.7 L814.8 1494.5" stroke="#07893f" stroke-width="14" stroke-linecap="round"/><path d="M830 1425.7 L814.8 1494.5" stroke="#1aa94f" stroke-width="12" stroke-linecap="round"/><path d="M830 1425.7 L814.8 1494.5" stroke="#4fbc68" stroke-width="5.9" stroke-linecap="round"/><path d="M830 1425.7 L814.8 1494.5" stroke="#9fd89f" stroke-width="2.8" stroke-linecap="round"/>
<path d="M1606.3 1349.7 L1627.2 1419.4" stroke="#07893f" stroke-width="13.5" stroke-linecap="round"/><path d="M1606.3 1349.7 L1627.2 1419.4" stroke="#1aa94f" stroke-width="11.5" stroke-linecap="round"/><path d="M1606.3 1349.7 L1627.2 1419.4" stroke="#4fbc68" stroke-width="5.7" stroke-linecap="round"/><path d="M1606.3 1349.7 L1627.2 1419.4" stroke="#9fd89f" stroke-width="2.7" stroke-linecap="round"/>
<path d="M2985 1380 C2988.2 1378.2 2993.7 1371 3004.5 1369 C3015.3 1367 3036.9 1367.9 3050 1368 C3063.1 1368.1 3073.2 1371.2 3083 1369.8 C3092.8 1368.4 3098.8 1368.4 3109 1359.4 C3119.2 1350.4 3133.8 1331.9 3144 1315.8 C3154.2 1299.7 3165.7 1271.5 3170 1262.7" stroke="#07893f" stroke-width="8.5" stroke-linecap="round"/><path d="M2985 1380 C2988.2 1378.2 2993.7 1371 3004.5 1369 C3015.3 1367 3036.9 1367.9 3050 1368 C3063.1 1368.1 3073.2 1371.2 3083 1369.8 C3092.8 1368.4 3098.8 1368.4 3109 1359.4 C3119.2 1350.4 3133.8 1331.9 3144 1315.8 C3154.2 1299.7 3165.7 1271.5 3170 1262.7" stroke="#1aa94f" stroke-width="6.5" stroke-linecap="round"/><path d="M2985 1380 C2988.2 1378.2 2993.7 1371 3004.5 1369 C3015.3 1367 3036.9 1367.9 3050 1368 C3063.1 1368.1 3073.2 1371.2 3083 1369.8 C3092.8 1368.4 3098.8 1368.4 3109 1359.4 C3119.2 1350.4 3133.8 1331.9 3144 1315.8 C3154.2 1299.7 3165.7 1271.5 3170 1262.7" stroke="#4fbc68" stroke-width="3.6" stroke-linecap="round"/><path d="M2985 1380 C2988.2 1378.2 2993.7 1371 3004.5 1369 C3015.3 1367 3036.9 1367.9 3050 1368 C3063.1 1368.1 3073.2 1371.2 3083 1369.8 C3092.8 1368.4 3098.8 1368.4 3109 1359.4 C3119.2 1350.4 3133.8 1331.9 3144 1315.8 C3154.2 1299.7 3165.7 1271.5 3170 1262.7" stroke="#9fd89f" stroke-width="1.7" stroke-linecap="round"/>
<path d="M838 1428.7 L870.7 1425 L903.3 1422.8 L936 1421.1" stroke="#07893f" stroke-width="13" stroke-linecap="butt"/><path d="M838 1428.7 L870.7 1425 L903.3 1422.8 L936 1421.1" stroke="#1aa94f" stroke-width="11" stroke-linecap="butt"/><path d="M838 1428.7 L870.7 1425 L903.3 1422.8 L936 1421.1" stroke="#4fbc68" stroke-width="5.5" stroke-linecap="butt"/><path d="M838 1428.7 L870.7 1425 L903.3 1422.8 L936 1421.1" stroke="#9fd89f" stroke-width="2.6" stroke-linecap="butt"/>
<path d="M857 1469.3 L881.7 1466.6 L906.3 1463.8 L931 1461" stroke="#07893f" stroke-width="12.5" stroke-linecap="butt"/><path d="M857 1469.3 L881.7 1466.6 L906.3 1463.8 L931 1461" stroke="#1aa94f" stroke-width="10.5" stroke-linecap="butt"/><path d="M857 1469.3 L881.7 1466.6 L906.3 1463.8 L931 1461" stroke="#4fbc68" stroke-width="5.2" stroke-linecap="butt"/><path d="M857 1469.3 L881.7 1466.6 L906.3 1463.8 L931 1461" stroke="#9fd89f" stroke-width="2.5" stroke-linecap="butt"/>
<path d="M1499 1364.1 L1522.2 1362.4 L1545.3 1360.8 L1568.5 1359.2" stroke="#07893f" stroke-width="13.5" stroke-linecap="butt"/><path d="M1499 1364.1 L1522.2 1362.4 L1545.3 1360.8 L1568.5 1359.2" stroke="#1aa94f" stroke-width="11.5" stroke-linecap="butt"/><path d="M1499 1364.1 L1522.2 1362.4 L1545.3 1360.8 L1568.5 1359.2" stroke="#4fbc68" stroke-width="5.7" stroke-linecap="butt"/><path d="M1499 1364.1 L1522.2 1362.4 L1545.3 1360.8 L1568.5 1359.2" stroke="#9fd89f" stroke-width="2.7" stroke-linecap="butt"/>
<path d="M1509.3 1401.1 L1532.8 1399.1 L1556.2 1397.4 L1579.7 1395.8" stroke="#07893f" stroke-width="12.5" stroke-linecap="butt"/><path d="M1509.3 1401.1 L1532.8 1399.1 L1556.2 1397.4 L1579.7 1395.8" stroke="#1aa94f" stroke-width="10.5" stroke-linecap="butt"/><path d="M1509.3 1401.1 L1532.8 1399.1 L1556.2 1397.4 L1579.7 1395.8" stroke="#4fbc68" stroke-width="5.2" stroke-linecap="butt"/><path d="M1509.3 1401.1 L1532.8 1399.1 L1556.2 1397.4 L1579.7 1395.8" stroke="#9fd89f" stroke-width="2.5" stroke-linecap="butt"/>
<path d="M2456 1398 L2482.1 1400.5 L2508.3 1403 L2534.4 1405.5" stroke="#07893f" stroke-width="12" stroke-linecap="butt"/><path d="M2456 1398 L2482.1 1400.5 L2508.3 1403 L2534.4 1405.5" stroke="#1aa94f" stroke-width="10" stroke-linecap="butt"/><path d="M2456 1398 L2482.1 1400.5 L2508.3 1403 L2534.4 1405.5" stroke="#4fbc68" stroke-width="5" stroke-linecap="butt"/><path d="M2456 1398 L2482.1 1400.5 L2508.3 1403 L2534.4 1405.5" stroke="#9fd89f" stroke-width="2.4" stroke-linecap="butt"/>
<path d="M2499.6 1442.8 L2525.1 1445 L2550.7 1447 L2576.2 1449.1" stroke="#07893f" stroke-width="12" stroke-linecap="butt"/><path d="M2499.6 1442.8 L2525.1 1445 L2550.7 1447 L2576.2 1449.1" stroke="#1aa94f" stroke-width="10" stroke-linecap="butt"/><path d="M2499.6 1442.8 L2525.1 1445 L2550.7 1447 L2576.2 1449.1" stroke="#4fbc68" stroke-width="5" stroke-linecap="butt"/><path d="M2499.6 1442.8 L2525.1 1445 L2550.7 1447 L2576.2 1449.1" stroke="#9fd89f" stroke-width="2.4" stroke-linecap="butt"/>
<path d="M934.5 1414.6 Q938.5 1421.1 934.5 1427.6" stroke="#414042" stroke-width="1.6" fill="none"/>
<path d="M929.5 1454.8 Q933.5 1461 929.5 1467.2" stroke="#414042" stroke-width="1.6" fill="none"/>
<path d="M1497.5 1357.3 Q1501.5 1364.1 1497.5 1370.8" stroke="#414042" stroke-width="1.6" fill="none"/>
<path d="M1507.8 1394.8 Q1511.8 1401.1 1507.8 1407.3" stroke="#414042" stroke-width="1.6" fill="none"/>
<path d="M2454.5 1392 Q2458.5 1398 2454.5 1404" stroke="#414042" stroke-width="1.6" fill="none"/>
<path d="M2498.1 1436.8 Q2502.1 1442.8 2498.1 1448.8" stroke="#414042" stroke-width="1.6" fill="none"/>
<circle cx="932" cy="1439" r="3.6" fill="#414042"/>
<circle cx="1504.4" cy="1378.8" r="3.6" fill="#414042"/>
<circle cx="2473.4" cy="1416.7" r="3.6" fill="#8b5e2e"/>
<path d="M1648 1353.6 L1693 1388.2" stroke="#07893f" stroke-width="4.8" stroke-linecap="round"/><path d="M1648 1353.6 L1693 1388.2" stroke="#1aa94f" stroke-width="3" stroke-linecap="round"/><path d="M1648 1353.6 L1693 1388.2" stroke="#4fbc68" stroke-width="2" stroke-linecap="round"/><path d="M1648 1353.6 L1693 1388.2" stroke="#9fd89f" stroke-width="1" stroke-linecap="round"/>
<path d="M1733 1385.7 L1749 1346.6 L1767 1383.7" stroke="#07893f" stroke-width="4.8" stroke-linecap="round"/><path d="M1733 1385.7 L1749 1346.6 L1767 1383.7" stroke="#1aa94f" stroke-width="3" stroke-linecap="round"/><path d="M1733 1385.7 L1749 1346.6 L1767 1383.7" stroke="#4fbc68" stroke-width="2" stroke-linecap="round"/><path d="M1733 1385.7 L1749 1346.6 L1767 1383.7" stroke="#9fd89f" stroke-width="1" stroke-linecap="round"/>
<path d="M1639 1373 L1649 1418" stroke="#07893f" stroke-width="8" stroke-linecap="round"/><path d="M1639 1373 L1649 1418" stroke="#1aa94f" stroke-width="6" stroke-linecap="round"/><path d="M1639 1373 L1649 1418" stroke="#4fbc68" stroke-width="3.4" stroke-linecap="round"/><path d="M1639 1373 L1649 1418" stroke="#9fd89f" stroke-width="1.6" stroke-linecap="round"/>
<ellipse cx="664.5" cy="1714" rx="4.2" ry="3" transform="rotate(26 664.5 1714)" fill="#0b6e34"/>
<ellipse cx="1495" cy="1494.5" rx="4.2" ry="3" transform="rotate(57 1495 1494.5)" fill="#0b6e34"/>
<ellipse cx="1555.7" cy="1568.7" rx="4.2" ry="3" transform="rotate(152 1555.7 1568.7)" fill="#0b6e34"/>
<ellipse cx="2929.3" cy="1568.2" rx="4.2" ry="3" transform="rotate(128 2929.3 1568.2)" fill="#0b6e34"/>
<ellipse cx="3170" cy="1263" rx="4.2" ry="3" transform="rotate(25 3170 1263)" fill="#0b6e34"/>
<path d="M603.5 899.5 C605.7 903.2 613.9 916 618 924 C622.1 932 627.7 944.1 631 953 C634.3 961.9 638 975.6 640 983 C642 990.4 643.9 997 644 1002 C644.1 1007 642.8 1011.6 641 1016 C639.2 1020.4 638.5 1019.9 632 1031 C625.5 1042.1 612.7 1064.7 598 1090 C583.3 1115.3 564.1 1147.7 534 1200 C503.9 1252.3 426.1 1388.7 397 1438.5 C367.9 1488.3 350.6 1514.1 340 1532 C329.4 1549.9 329.6 1549.9 326 1558 C322.4 1566.1 317.9 1577.8 316 1586 C314.1 1594.2 313.1 1604.9 313 1613 C312.9 1621.1 313.4 1630.7 315 1640 C316.6 1649.3 320.9 1665.7 324 1675 C327.1 1684.3 332.1 1694.7 336 1702 C339.9 1709.3 347.9 1720.7 350 1724" stroke="#bfc0c3" stroke-width="14" stroke-linecap="round"/><path d="M603.5 899.5 C605.7 903.2 613.9 916 618 924 C622.1 932 627.7 944.1 631 953 C634.3 961.9 638 975.6 640 983 C642 990.4 643.9 997 644 1002 C644.1 1007 642.8 1011.6 641 1016 C639.2 1020.4 638.5 1019.9 632 1031 C625.5 1042.1 612.7 1064.7 598 1090 C583.3 1115.3 564.1 1147.7 534 1200 C503.9 1252.3 426.1 1388.7 397 1438.5 C367.9 1488.3 350.6 1514.1 340 1532 C329.4 1549.9 329.6 1549.9 326 1558 C322.4 1566.1 317.9 1577.8 316 1586 C314.1 1594.2 313.1 1604.9 313 1613 C312.9 1621.1 313.4 1630.7 315 1640 C316.6 1649.3 320.9 1665.7 324 1675 C327.1 1684.3 332.1 1694.7 336 1702 C339.9 1709.3 347.9 1720.7 350 1724" stroke="#d5d6d8" stroke-width="12" stroke-linecap="round"/><path d="M603.5 899.5 C605.7 903.2 613.9 916 618 924 C622.1 932 627.7 944.1 631 953 C634.3 961.9 638 975.6 640 983 C642 990.4 643.9 997 644 1002 C644.1 1007 642.8 1011.6 641 1016 C639.2 1020.4 638.5 1019.9 632 1031 C625.5 1042.1 612.7 1064.7 598 1090 C583.3 1115.3 564.1 1147.7 534 1200 C503.9 1252.3 426.1 1388.7 397 1438.5 C367.9 1488.3 350.6 1514.1 340 1532 C329.4 1549.9 329.6 1549.9 326 1558 C322.4 1566.1 317.9 1577.8 316 1586 C314.1 1594.2 313.1 1604.9 313 1613 C312.9 1621.1 313.4 1630.7 315 1640 C316.6 1649.3 320.9 1665.7 324 1675 C327.1 1684.3 332.1 1694.7 336 1702 C339.9 1709.3 347.9 1720.7 350 1724" stroke="#e9eaeb" stroke-width="5.9" stroke-linecap="round"/><path d="M603.5 899.5 C605.7 903.2 613.9 916 618 924 C622.1 932 627.7 944.1 631 953 C634.3 961.9 638 975.6 640 983 C642 990.4 643.9 997 644 1002 C644.1 1007 642.8 1011.6 641 1016 C639.2 1020.4 638.5 1019.9 632 1031 C625.5 1042.1 612.7 1064.7 598 1090 C583.3 1115.3 564.1 1147.7 534 1200 C503.9 1252.3 426.1 1388.7 397 1438.5 C367.9 1488.3 350.6 1514.1 340 1532 C329.4 1549.9 329.6 1549.9 326 1558 C322.4 1566.1 317.9 1577.8 316 1586 C314.1 1594.2 313.1 1604.9 313 1613 C312.9 1621.1 313.4 1630.7 315 1640 C316.6 1649.3 320.9 1665.7 324 1675 C327.1 1684.3 332.1 1694.7 336 1702 C339.9 1709.3 347.9 1720.7 350 1724" stroke="#fdfdfd" stroke-width="2.8" stroke-linecap="round"/>
</g>
<path d="M590 652 L590 908" stroke="#231f20" stroke-width="1.8" fill="none"/>
<path d="M658.5 986.5 L755.6 986.5" stroke="#231f20" stroke-width="1.8" fill="none"/>
<path d="M385 1004 L385 1200" stroke="#231f20" stroke-width="1.8" fill="none"/>
<path d="M874 1224.2 L935 1224.2" stroke="#231f20" stroke-width="1.8" fill="none"/>
<path d="M905 1224.2 L905 1404" stroke="#231f20" stroke-width="1.8" fill="none"/>
<path d="M1533.4 1224.6 L1533.4 1335.7" stroke="#231f20" stroke-width="1.8" fill="none"/>
<path d="M2461.2 1224.8 L2522.1 1224.8" stroke="#231f20" stroke-width="1.8" fill="none"/>
<path d="M2492.3 1224.8 L2492.3 1369" stroke="#231f20" stroke-width="1.8" fill="none"/>
<path d="M3309.7 904 L3309.7 1159.4" stroke="#231f20" stroke-width="1.8" fill="none"/>
<path d="M3240 1299.5 L3240 2141.7" stroke="#231f20" stroke-width="1.8" fill="none"/>
<path d="M3287.6 1300.3 L3287.6 2366" stroke="#231f20" stroke-width="1.8" fill="none"/>
<path d="M2935 1597.3 L2929.6 1900.8" stroke="#231f20" stroke-width="1.8" fill="none"/>
<path d="M1560.4 1592.4 L1560.4 1789" stroke="#231f20" stroke-width="1.8" fill="none"/>
<path d="M1493.6 1519 L1493.6 1887.3" stroke="#231f20" stroke-width="1.8" fill="none"/>
<path d="M660.7 1749 L660.7 1887.7" stroke="#231f20" stroke-width="1.8" fill="none"/>
<path d="M298.4 1550.8 L298.4 1889.8" stroke="#231f20" stroke-width="1.8" fill="none"/>
<path d="M247 1557.5 L247 2142" stroke="#231f20" stroke-width="1.8" fill="none"/>
<path d="M178.3 1579.5 L178.3 2367.5" stroke="#231f20" stroke-width="1.8" fill="none"/>
<circle cx="590" cy="908" r="3.9" fill="#231f20"/>
<circle cx="658.5" cy="986.5" r="3.9" fill="#231f20"/>
<circle cx="385" cy="1200" r="3.9" fill="#231f20"/>
<circle cx="905" cy="1404" r="3.9" fill="#231f20"/>
<circle cx="1533.4" cy="1335.7" r="3.9" fill="#231f20"/>
<circle cx="2492.3" cy="1369" r="3.9" fill="#231f20"/>
<circle cx="3309.7" cy="1159.4" r="3.9" fill="#231f20"/>
<circle cx="3240" cy="1299.5" r="3.9" fill="#231f20"/>
<circle cx="3287.6" cy="1300.3" r="3.9" fill="#231f20"/>
<circle cx="2935" cy="1597.3" r="3.9" fill="#231f20"/>
<circle cx="1560.4" cy="1592.4" r="3.9" fill="#231f20"/>
<circle cx="1493.6" cy="1519" r="3.9" fill="#231f20"/>
<circle cx="660.7" cy="1749" r="3.9" fill="#231f20"/>
<circle cx="298.4" cy="1550.8" r="3.9" fill="#231f20"/>
<circle cx="247" cy="1557.5" r="3.9" fill="#231f20"/>
<circle cx="178.3" cy="1579.5" r="3.9" fill="#231f20"/>
<text x="203.1" y="134.2" font-size="84.89" font-weight="bold" font-style="normal" letter-spacing="-0.948" fill="#231f20">31.12.2025</text>
<text transform="matrix(0.8700 0 0 1 197.9 0)" x="0" y="274.8" font-size="87.94" font-weight="bold" font-style="normal" letter-spacing="4.154" fill="#231f20">PROJEKT STATUS</text>
<text transform="matrix(0.9500 0 0 1 203 0)" x="0" y="374.4" font-size="87.21" font-weight="bold" font-style="italic" letter-spacing="-2.787" fill="#231f20">STATO DEL PROGETTO</text>
<text transform="matrix(0.8800 0 0 1 197.7 0)" x="0" y="474.8" font-size="87.21" font-weight="normal" font-style="normal" letter-spacing="3.460" fill="#231f20">PROJECT STATUS</text>
<text x="2262.1" y="212.4" font-size="30.52" font-weight="normal" font-style="normal" letter-spacing="1.189" fill="#636467">aktuelle Vortriebe</text>
<text x="2200.3" y="243.6" font-size="30.52" font-weight="normal" font-style="italic" letter-spacing="1.154" fill="#636467">avanzamento in corso</text>
<text x="2251" y="272.8" font-size="30.52" font-weight="normal" font-style="normal" letter-spacing="0.168" fill="#636467">current excavations</text>
<text x="2022.5" y="363.4" font-size="30.52" font-weight="normal" font-style="normal" letter-spacing="1.154" fill="#636467">bereits ausgebrochene Abschnitte</text>
<text x="2248.8" y="393.6" font-size="30.52" font-weight="normal" font-style="italic" letter-spacing="0.795" fill="#636467">sezioni già scavate</text>
<text x="2150.1" y="423.7" font-size="30.52" font-weight="normal" font-style="normal" letter-spacing="0.016" fill="#636467">already excavated sections</text>
<text transform="matrix(0.9200 0 0 1 627.1 0)" x="0" y="691.8" font-size="53.78" font-weight="bold" font-style="normal" letter-spacing="1.069" fill="#636467">PORTAL TULFES</text>
<text transform="matrix(0.9600 0 0 1 630.6 0)" x="0" y="743.6" font-size="53.78" font-weight="bold" font-style="italic" letter-spacing="0.445" fill="#636467">PORTALE TULFES</text>
<text transform="matrix(0.9300 0 0 1 628.2 0)" x="0" y="794.6" font-size="53.78" font-weight="normal" font-style="normal" letter-spacing="1.195" fill="#636467">PORTAL TULFES</text>
<text x="1284.2" y="699.9" font-size="43.61" font-weight="bold" font-style="normal" letter-spacing="-1.027" fill="#636467">Österreich</text>
<text x="1372.1" y="740.4" font-size="43.61" font-weight="bold" font-style="italic" letter-spacing="-0.925" fill="#636467">Austria</text>
<text x="1404.2" y="785.5" font-size="43.61" font-weight="normal" font-style="normal" letter-spacing="0.429" fill="#636467">Austria</text>
<text x="1563.7" y="699.9" font-size="43.61" font-weight="bold" font-style="normal" letter-spacing="-0.197" fill="#636467">Italien</text>
<text x="1588.8" y="740.4" font-size="43.61" font-weight="bold" font-style="italic" letter-spacing="-0.225" fill="#636467">Italia</text>
<text x="1616.7" y="785.5" font-size="43.61" font-weight="normal" font-style="normal" letter-spacing="1.059" fill="#636467">Italy</text>
<text transform="matrix(0.9500 0 0 1 767.5 0)" x="0" y="962.6" font-size="29.94" font-weight="bold" font-style="normal" letter-spacing="1.252" fill="#636467">EISENBAHNUMFAHRUNG INNSBRUCK</text>
<text transform="matrix(0.9600 0 0 1 768 0)" x="0" y="996.7" font-size="29.94" font-weight="bold" font-style="italic" letter-spacing="0.017" fill="#636467">CIRCONVALLAZIONE FERROVIARIA DI INNSBRUCK</text>
<text transform="matrix(0.9300 0 0 1 766.8 0)" x="0" y="1031.2" font-size="29.94" font-weight="normal" font-style="normal" letter-spacing="1.257" fill="#636467">INNSBRUCK RAILWAY PASS</text>
<text transform="matrix(0.9500 0 0 1 398 0)" x="0" y="1024.6" font-size="29.65" font-weight="bold" font-style="normal" letter-spacing="0.902" fill="#636467">AMPASS</text>
<text transform="matrix(0.9500 0 0 1 784.7 0)" x="0" y="1130.4" font-size="35.76" font-weight="bold" font-style="normal" letter-spacing="1.053" fill="#636467">NOTHALTESTELLE INNSBRUCK</text>
<text transform="matrix(0.9600 0 0 1 787.4 0)" x="0" y="1166.4" font-size="35.76" font-weight="bold" font-style="italic" letter-spacing="0.188" fill="#636467">FERMATA DI EMERGENZA INNSBRUCK</text>
<text transform="matrix(0.9300 0 0 1 785.3 0)" x="0" y="1201.7" font-size="35.76" font-weight="normal" font-style="normal" letter-spacing="1.903" fill="#636467">EMERGENCY STOP INNSBRUCK</text>
<text transform="matrix(0.9500 0 0 1 1492.9 0)" x="0" y="1130.8" font-size="35.76" font-weight="bold" font-style="normal" letter-spacing="1.027" fill="#636467">NOTHALTESTELLE ST. JODOK</text>
<text transform="matrix(0.9600 0 0 1 1496.2 0)" x="0" y="1166.8" font-size="35.76" font-weight="bold" font-style="italic" letter-spacing="0.186" fill="#636467">FERMATA DI EMERGENZA ST. JODOK</text>
<text transform="matrix(0.9300 0 0 1 1492.5 0)" x="0" y="1201.8" font-size="35.76" font-weight="normal" font-style="normal" letter-spacing="1.909" fill="#636467">EMERGENCY STOP ST. JODOK</text>
<text transform="matrix(0.9500 0 0 1 2453.7 0)" x="0" y="1130.8" font-size="35.76" font-weight="bold" font-style="normal" letter-spacing="0.870" fill="#636467">NOTHALTESTELLE TRENS</text>
<text transform="matrix(0.9600 0 0 1 2456 0)" x="0" y="1166.8" font-size="35.76" font-weight="bold" font-style="italic" letter-spacing="0.257" fill="#636467">FERMATA DI EMERGENZA TRENS</text>
<text transform="matrix(0.9300 0 0 1 2453.3 0)" x="0" y="1201.8" font-size="35.76" font-weight="normal" font-style="normal" letter-spacing="1.738" fill="#636467">EMERGENCY STOP TRENS</text>
<text transform="matrix(0.9500 0 0 1 3205.7 0)" x="0" y="934.4" font-size="35.90" font-weight="bold" font-style="normal" letter-spacing="-0.533" fill="#636467">AICA</text>
<text transform="matrix(0.9600 0 0 1 3178 0)" x="0" y="968.3" font-size="35.90" font-weight="bold" font-style="italic" letter-spacing="0.742" fill="#636467">AICHA</text>
<text transform="matrix(0.9500 0 0 1 311.1 0)" x="0" y="1823.4" font-size="30.81" font-weight="bold" font-style="normal" letter-spacing="-0.685" fill="#636467">SILLSCHLUCHT</text>
<text transform="matrix(0.9600 0 0 1 311.6 0)" x="0" y="1857.2" font-size="30.81" font-weight="bold" font-style="italic" letter-spacing="-0.752" fill="#636467">GOLA DEL SILL</text>
<text transform="matrix(0.9300 0 0 1 311.1 0)" x="0" y="1891" font-size="30.81" font-weight="normal" font-style="normal" letter-spacing="-0.115" fill="#636467">SILL GORGE</text>
<text transform="matrix(0.9500 0 0 1 672.8 0)" x="0" y="1890.4" font-size="37.79" font-weight="bold" font-style="normal" letter-spacing="-1.195" fill="#636467">AHRENTAL</text>
<text transform="matrix(0.9500 0 0 1 1505.2 0)" x="0" y="1889.6" font-size="35.76" font-weight="bold" font-style="normal" letter-spacing="0.099" fill="#636467">PADASTERTAL</text>
<text transform="matrix(0.9500 0 0 1 1574.6 0)" x="0" y="1792" font-size="35.76" font-weight="bold" font-style="normal" letter-spacing="-0.177" fill="#636467">WOLF</text>
<text transform="matrix(0.9500 0 0 1 2783.6 0)" x="0" y="1870.6" font-size="36.63" font-weight="bold" font-style="normal" letter-spacing="0.605" fill="#636467">MULES</text>
<text transform="matrix(0.9600 0 0 1 2779.3 0)" x="0" y="1903.9" font-size="36.63" font-weight="bold" font-style="italic" letter-spacing="1.319" fill="#636467">MAULS</text>
<text transform="matrix(0.9200 0 0 1 275.3 0)" x="0" y="2040.2" font-size="53.05" font-weight="bold" font-style="normal" letter-spacing="1.932" fill="#636467">PORTAL INNSBRUCK</text>
<text transform="matrix(0.9600 0 0 1 278.5 0)" x="0" y="2091.1" font-size="53.05" font-weight="bold" font-style="italic" letter-spacing="1.428" fill="#636467">PORTALE INNSBRUCK</text>
<text transform="matrix(0.9300 0 0 1 276.5 0)" x="0" y="2142.1" font-size="53.05" font-weight="normal" font-style="normal" letter-spacing="3.484" fill="#636467">PORTAL INNSBRUCK</text>
<text transform="matrix(0.9200 0 0 1 211.5 0)" x="0" y="2265.2" font-size="52.33" font-weight="bold" font-style="normal" letter-spacing="4.227" fill="#636467">HAUPTBAHNHOF INNSBRUCK</text>
<text transform="matrix(0.9600 0 0 1 215.3 0)" x="0" y="2316.1" font-size="52.33" font-weight="bold" font-style="italic" letter-spacing="1.161" fill="#636467">STAZIONE INNSBRUCK</text>
<text transform="matrix(0.9300 0 0 1 211.4 0)" x="0" y="2367.1" font-size="52.33" font-weight="normal" font-style="normal" letter-spacing="4.464" fill="#636467">INNSBRUCK TRAIN STATION</text>
<text transform="matrix(0.9200 0 0 1 2514.7 0)" x="0" y="2040.8" font-size="53.78" font-weight="bold" font-style="normal" letter-spacing="2.407" fill="#636467">PORTAL FRANZENSFESTE</text>
<text transform="matrix(0.9600 0 0 1 2680.1 0)" x="0" y="2091.2" font-size="53.78" font-weight="bold" font-style="italic" letter-spacing="-0.756" fill="#636467">PORTALE FORTEZZA</text>
<text transform="matrix(0.9300 0 0 1 2515.4 0)" x="0" y="2142.5" font-size="53.78" font-weight="normal" font-style="normal" letter-spacing="2.378" fill="#636467">PORTAL FRANZENSFESTE</text>
<text transform="matrix(0.9200 0 0 1 2514.8 0)" x="0" y="2265.6" font-size="52.33" font-weight="bold" font-style="normal" letter-spacing="3.767" fill="#636467">BAHNHOF FRANZENSFESTE</text>
<text transform="matrix(0.9600 0 0 1 2706.7 0)" x="0" y="2316.4" font-size="52.33" font-weight="bold" font-style="italic" letter-spacing="0.954" fill="#636467">STAZIONE FORTEZZA</text>
<text transform="matrix(0.9300 0 0 1 2357.3 0)" x="0" y="2365.8" font-size="52.33" font-weight="normal" font-style="normal" letter-spacing="3.915" fill="#636467">FRANZENSFESTE TRAIN STATION</text>
</svg></body></html>
